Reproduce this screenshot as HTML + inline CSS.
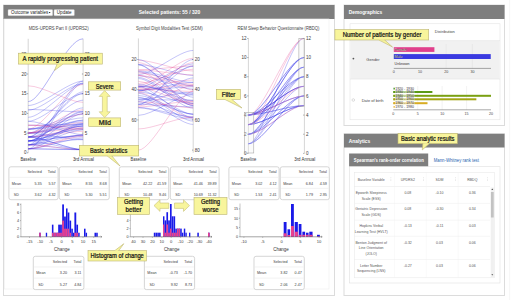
<!DOCTYPE html>
<html><head><meta charset="utf-8"><style>
html,body{margin:0;padding:0;background:#fff;width:512px;height:300px;overflow:hidden}
svg{display:block}
text{font-family:"Liberation Sans", sans-serif}
</style></head><body>
<svg width="512" height="300" viewBox="0 0 512 300">
<rect x="0" y="0" width="512" height="300" fill="#fff"/>
<line x1="509.60" y1="0.00" x2="509.60" y2="300.00" stroke="#f0f0f0" stroke-width="0.6" />
<rect x="3.50" y="5.00" width="331.00" height="290.50" fill="#fff" stroke="#dcdcdc" stroke-width="1" rx="0" />
<rect x="3.50" y="5.00" width="331.00" height="14.00" fill="#7e7e7e" stroke="none" stroke-width="1" rx="0" />
<rect x="8.00" y="9.60" width="44.70" height="6.10" fill="#fff" stroke="#bbb" stroke-width="0.4" rx="0.8" />
<text x="11.00" y="14.30" font-size="4.6" fill="#222" text-anchor="start" font-weight="normal" textLength="37.20" lengthAdjust="spacingAndGlyphs" >Outcome variables</text>
<path d="M48.6,11.9 L50.6,11.9 L49.6,13.3 Z" fill="#222"/>
<rect x="54.00" y="9.60" width="20.40" height="6.10" fill="#fff" stroke="#bbb" stroke-width="0.4" rx="0.8" />
<text x="64.20" y="14.30" font-size="4.6" fill="#222" text-anchor="middle" font-weight="normal" >Update</text>
<text x="138.80" y="14.20" font-size="5.2" fill="#fff" text-anchor="start" font-weight="bold" textLength="61.40" lengthAdjust="spacingAndGlyphs" >Selected patients: 55 / 320</text>
<rect x="4.50" y="19.00" width="324.50" height="270.00" fill="none" stroke="#eeeeee" stroke-width="0.6" rx="0" />
<rect x="344.00" y="5.00" width="160.50" height="120.50" fill="#fff" stroke="#dcdcdc" stroke-width="1" rx="0" />
<rect x="344.00" y="5.00" width="160.50" height="14.00" fill="#7e7e7e" stroke="none" stroke-width="1" rx="0" />
<text x="348.80" y="14.10" font-size="5.2" fill="#fff" text-anchor="start" font-weight="bold" textLength="33.40" lengthAdjust="spacingAndGlyphs" >Demographics</text>
<rect x="344.00" y="133.80" width="160.50" height="161.70" fill="#fff" stroke="#dcdcdc" stroke-width="1" rx="0" />
<rect x="344.00" y="133.80" width="160.50" height="13.70" fill="#7e7e7e" stroke="none" stroke-width="1" rx="0" />
<text x="348.80" y="142.70" font-size="5.2" fill="#fff" text-anchor="start" font-weight="bold" textLength="21.40" lengthAdjust="spacingAndGlyphs" >Analytics</text>
<text x="28.70" y="29.80" font-size="4.9" fill="#444" text-anchor="start" font-weight="normal" textLength="60.00" lengthAdjust="spacingAndGlyphs" >MDS-UPDRS Part II (UPDRS2)</text>
<line x1="28.20" y1="38.80" x2="28.20" y2="152.80" stroke="#aaa" stroke-width="0.5" />
<line x1="27.00" y1="152.80" x2="28.20" y2="152.80" stroke="#555" stroke-width="0.5" />
<line x1="27.00" y1="133.10" x2="28.20" y2="133.10" stroke="#555" stroke-width="0.5" />
<line x1="27.00" y1="113.40" x2="28.20" y2="113.40" stroke="#555" stroke-width="0.5" />
<line x1="27.00" y1="93.70" x2="28.20" y2="93.70" stroke="#555" stroke-width="0.5" />
<line x1="27.00" y1="74.00" x2="28.20" y2="74.00" stroke="#555" stroke-width="0.5" />
<line x1="27.00" y1="54.30" x2="28.20" y2="54.30" stroke="#555" stroke-width="0.5" />
<line x1="83.10" y1="38.80" x2="83.10" y2="152.80" stroke="#aaa" stroke-width="0.5" />
<line x1="81.90" y1="152.80" x2="83.10" y2="152.80" stroke="#555" stroke-width="0.5" />
<line x1="81.90" y1="133.10" x2="83.10" y2="133.10" stroke="#555" stroke-width="0.5" />
<line x1="81.90" y1="113.40" x2="83.10" y2="113.40" stroke="#555" stroke-width="0.5" />
<line x1="81.90" y1="93.70" x2="83.10" y2="93.70" stroke="#555" stroke-width="0.5" />
<line x1="81.90" y1="74.00" x2="83.10" y2="74.00" stroke="#555" stroke-width="0.5" />
<line x1="81.90" y1="54.30" x2="83.10" y2="54.30" stroke="#555" stroke-width="0.5" />
<text x="26.40" y="154.40" font-size="4.5" fill="#3a3a3a" text-anchor="end" font-weight="normal" >0</text>
<text x="84.70" y="154.40" font-size="4.5" fill="#3a3a3a" text-anchor="start" font-weight="normal" >0</text>
<text x="26.40" y="134.70" font-size="4.5" fill="#3a3a3a" text-anchor="end" font-weight="normal" >5</text>
<text x="84.70" y="134.70" font-size="4.5" fill="#3a3a3a" text-anchor="start" font-weight="normal" >5</text>
<text x="26.40" y="115.00" font-size="4.5" fill="#3a3a3a" text-anchor="end" font-weight="normal" >10</text>
<text x="84.70" y="115.00" font-size="4.5" fill="#3a3a3a" text-anchor="start" font-weight="normal" >10</text>
<text x="26.40" y="95.30" font-size="4.5" fill="#3a3a3a" text-anchor="end" font-weight="normal" >15</text>
<text x="84.70" y="95.30" font-size="4.5" fill="#3a3a3a" text-anchor="start" font-weight="normal" >15</text>
<text x="26.40" y="75.60" font-size="4.5" fill="#3a3a3a" text-anchor="end" font-weight="normal" >20</text>
<text x="84.70" y="75.60" font-size="4.5" fill="#3a3a3a" text-anchor="start" font-weight="normal" >20</text>
<text x="26.40" y="55.90" font-size="4.5" fill="#3a3a3a" text-anchor="end" font-weight="normal" >25</text>
<text x="84.70" y="55.90" font-size="4.5" fill="#3a3a3a" text-anchor="start" font-weight="normal" >25</text>
<text x="20.40" y="161.20" font-size="4.7" fill="#333" text-anchor="start" font-weight="normal" textLength="15.60" lengthAdjust="spacingAndGlyphs" >Baseline</text>
<text x="72.90" y="161.20" font-size="4.7" fill="#333" text-anchor="start" font-weight="normal" textLength="21.00" lengthAdjust="spacingAndGlyphs" >3rd Annual</text>
<text x="135.90" y="29.80" font-size="4.9" fill="#444" text-anchor="start" font-weight="normal" textLength="66.90" lengthAdjust="spacingAndGlyphs" >Symbol Digit Modalities Test (SDM)</text>
<line x1="138.40" y1="38.40" x2="138.40" y2="152.80" stroke="#aaa" stroke-width="0.5" />
<line x1="137.20" y1="59.50" x2="138.40" y2="59.50" stroke="#555" stroke-width="0.5" />
<line x1="137.20" y1="89.70" x2="138.40" y2="89.70" stroke="#555" stroke-width="0.5" />
<line x1="137.20" y1="119.90" x2="138.40" y2="119.90" stroke="#555" stroke-width="0.5" />
<line x1="137.20" y1="150.10" x2="138.40" y2="150.10" stroke="#555" stroke-width="0.5" />
<line x1="193.20" y1="38.40" x2="193.20" y2="152.80" stroke="#aaa" stroke-width="0.5" />
<line x1="192.00" y1="59.50" x2="193.20" y2="59.50" stroke="#555" stroke-width="0.5" />
<line x1="192.00" y1="89.70" x2="193.20" y2="89.70" stroke="#555" stroke-width="0.5" />
<line x1="192.00" y1="119.90" x2="193.20" y2="119.90" stroke="#555" stroke-width="0.5" />
<line x1="192.00" y1="150.10" x2="193.20" y2="150.10" stroke="#555" stroke-width="0.5" />
<text x="136.60" y="61.10" font-size="4.5" fill="#3a3a3a" text-anchor="end" font-weight="normal" >20</text>
<text x="194.80" y="61.10" font-size="4.5" fill="#3a3a3a" text-anchor="start" font-weight="normal" >20</text>
<text x="136.60" y="91.30" font-size="4.5" fill="#3a3a3a" text-anchor="end" font-weight="normal" >40</text>
<text x="194.80" y="91.30" font-size="4.5" fill="#3a3a3a" text-anchor="start" font-weight="normal" >40</text>
<text x="136.60" y="121.50" font-size="4.5" fill="#3a3a3a" text-anchor="end" font-weight="normal" >60</text>
<text x="194.80" y="121.50" font-size="4.5" fill="#3a3a3a" text-anchor="start" font-weight="normal" >60</text>
<text x="136.60" y="151.70" font-size="4.5" fill="#3a3a3a" text-anchor="end" font-weight="normal" >80</text>
<text x="194.80" y="151.70" font-size="4.5" fill="#3a3a3a" text-anchor="start" font-weight="normal" >80</text>
<text x="130.60" y="161.20" font-size="4.7" fill="#333" text-anchor="start" font-weight="normal" textLength="15.60" lengthAdjust="spacingAndGlyphs" >Baseline</text>
<text x="183.00" y="161.20" font-size="4.7" fill="#333" text-anchor="start" font-weight="normal" textLength="21.00" lengthAdjust="spacingAndGlyphs" >3rd Annual</text>
<text x="237.60" y="29.80" font-size="4.9" fill="#444" text-anchor="start" font-weight="normal" textLength="81.80" lengthAdjust="spacingAndGlyphs" >REM Sleep Behavior Questionnaire (RBDQ)</text>
<line x1="248.40" y1="38.40" x2="248.40" y2="153.20" stroke="#aaa" stroke-width="0.5" />
<line x1="247.20" y1="153.40" x2="248.40" y2="153.40" stroke="#555" stroke-width="0.5" />
<line x1="247.20" y1="134.24" x2="248.40" y2="134.24" stroke="#555" stroke-width="0.5" />
<line x1="247.20" y1="115.08" x2="248.40" y2="115.08" stroke="#555" stroke-width="0.5" />
<line x1="247.20" y1="95.92" x2="248.40" y2="95.92" stroke="#555" stroke-width="0.5" />
<line x1="247.20" y1="76.76" x2="248.40" y2="76.76" stroke="#555" stroke-width="0.5" />
<line x1="247.20" y1="57.60" x2="248.40" y2="57.60" stroke="#555" stroke-width="0.5" />
<line x1="247.20" y1="38.44" x2="248.40" y2="38.44" stroke="#555" stroke-width="0.5" />
<line x1="304.40" y1="38.40" x2="304.40" y2="153.20" stroke="#aaa" stroke-width="0.5" />
<line x1="303.20" y1="153.40" x2="304.40" y2="153.40" stroke="#555" stroke-width="0.5" />
<line x1="303.20" y1="134.24" x2="304.40" y2="134.24" stroke="#555" stroke-width="0.5" />
<line x1="303.20" y1="115.08" x2="304.40" y2="115.08" stroke="#555" stroke-width="0.5" />
<line x1="303.20" y1="95.92" x2="304.40" y2="95.92" stroke="#555" stroke-width="0.5" />
<line x1="303.20" y1="76.76" x2="304.40" y2="76.76" stroke="#555" stroke-width="0.5" />
<line x1="303.20" y1="57.60" x2="304.40" y2="57.60" stroke="#555" stroke-width="0.5" />
<line x1="303.20" y1="38.44" x2="304.40" y2="38.44" stroke="#555" stroke-width="0.5" />
<text x="246.60" y="155.00" font-size="4.5" fill="#3a3a3a" text-anchor="end" font-weight="normal" >0</text>
<text x="306.00" y="155.00" font-size="4.5" fill="#3a3a3a" text-anchor="start" font-weight="normal" >0</text>
<text x="246.60" y="135.84" font-size="4.5" fill="#3a3a3a" text-anchor="end" font-weight="normal" >2</text>
<text x="306.00" y="135.84" font-size="4.5" fill="#3a3a3a" text-anchor="start" font-weight="normal" >2</text>
<text x="246.60" y="116.68" font-size="4.5" fill="#3a3a3a" text-anchor="end" font-weight="normal" >4</text>
<text x="306.00" y="116.68" font-size="4.5" fill="#3a3a3a" text-anchor="start" font-weight="normal" >4</text>
<text x="246.60" y="97.52" font-size="4.5" fill="#3a3a3a" text-anchor="end" font-weight="normal" >6</text>
<text x="306.00" y="97.52" font-size="4.5" fill="#3a3a3a" text-anchor="start" font-weight="normal" >6</text>
<text x="246.60" y="78.36" font-size="4.5" fill="#3a3a3a" text-anchor="end" font-weight="normal" >8</text>
<text x="306.00" y="78.36" font-size="4.5" fill="#3a3a3a" text-anchor="start" font-weight="normal" >8</text>
<text x="246.60" y="59.20" font-size="4.5" fill="#3a3a3a" text-anchor="end" font-weight="normal" >10</text>
<text x="306.00" y="59.20" font-size="4.5" fill="#3a3a3a" text-anchor="start" font-weight="normal" >10</text>
<text x="246.60" y="40.04" font-size="4.5" fill="#3a3a3a" text-anchor="end" font-weight="normal" >12</text>
<text x="306.00" y="40.04" font-size="4.5" fill="#3a3a3a" text-anchor="start" font-weight="normal" >12</text>
<text x="240.60" y="161.20" font-size="4.7" fill="#333" text-anchor="start" font-weight="normal" textLength="15.60" lengthAdjust="spacingAndGlyphs" >Baseline</text>
<text x="294.20" y="161.20" font-size="4.7" fill="#333" text-anchor="start" font-weight="normal" textLength="21.00" lengthAdjust="spacingAndGlyphs" >3rd Annual</text>
<path d="M28.20,129.16 C42.47,129.16 68.83,114.29 83.10,114.29" fill="none" stroke="#2a2ae6" stroke-opacity="0.42" stroke-width="0.65"/>
<path d="M28.20,129.16 C42.47,129.16 68.83,117.81 83.10,117.81" fill="none" stroke="#2a2ae6" stroke-opacity="0.42" stroke-width="0.65"/>
<path d="M28.20,125.22 C42.47,125.22 68.83,124.35 83.10,124.35" fill="none" stroke="#2a2ae6" stroke-opacity="0.42" stroke-width="0.65"/>
<path d="M28.20,137.04 C42.47,137.04 68.83,131.38 83.10,131.38" fill="none" stroke="#e6408c" stroke-opacity="0.42" stroke-width="0.65"/>
<path d="M28.20,117.34 C42.47,117.34 68.83,83.94 83.10,83.94" fill="none" stroke="#2a2ae6" stroke-opacity="0.42" stroke-width="0.65"/>
<path d="M28.20,140.98 C42.47,140.98 68.83,125.88 83.10,125.88" fill="none" stroke="#2a2ae6" stroke-opacity="0.42" stroke-width="0.65"/>
<path d="M28.20,140.98 C42.47,140.98 68.83,149.65 83.10,149.65" fill="none" stroke="#2a2ae6" stroke-opacity="0.42" stroke-width="0.65"/>
<path d="M28.20,148.86 C42.47,148.86 68.83,134.85 83.10,134.85" fill="none" stroke="#e6408c" stroke-opacity="0.42" stroke-width="0.65"/>
<path d="M28.20,105.52 C42.47,105.52 68.83,81.09 83.10,81.09" fill="none" stroke="#2a2ae6" stroke-opacity="0.42" stroke-width="0.65"/>
<path d="M28.20,133.10 C42.47,133.10 68.83,123.59 83.10,123.59" fill="none" stroke="#2a2ae6" stroke-opacity="0.42" stroke-width="0.65"/>
<path d="M28.20,140.98 C42.47,140.98 68.83,111.96 83.10,111.96" fill="none" stroke="#2a2ae6" stroke-opacity="0.42" stroke-width="0.65"/>
<path d="M28.20,125.22 C42.47,125.22 68.83,127.34 83.10,127.34" fill="none" stroke="#e6408c" stroke-opacity="0.42" stroke-width="0.65"/>
<path d="M28.20,133.10 C42.47,133.10 68.83,139.79 83.10,139.79" fill="none" stroke="#2a2ae6" stroke-opacity="0.42" stroke-width="0.65"/>
<path d="M28.20,137.04 C42.47,137.04 68.83,136.94 83.10,136.94" fill="none" stroke="#2a2ae6" stroke-opacity="0.42" stroke-width="0.65"/>
<path d="M28.20,129.16 C42.47,129.16 68.83,84.38 83.10,84.38" fill="none" stroke="#e6408c" stroke-opacity="0.42" stroke-width="0.65"/>
<path d="M28.20,133.10 C42.47,133.10 68.83,120.13 83.10,120.13" fill="none" stroke="#2a2ae6" stroke-opacity="0.42" stroke-width="0.65"/>
<path d="M28.20,133.10 C42.47,133.10 68.83,128.29 83.10,128.29" fill="none" stroke="#e6408c" stroke-opacity="0.42" stroke-width="0.65"/>
<path d="M28.20,148.86 C42.47,148.86 68.83,124.23 83.10,124.23" fill="none" stroke="#2a2ae6" stroke-opacity="0.42" stroke-width="0.65"/>
<path d="M28.20,144.92 C42.47,144.92 68.83,81.09 83.10,81.09" fill="none" stroke="#2a2ae6" stroke-opacity="0.42" stroke-width="0.65"/>
<path d="M28.20,144.92 C42.47,144.92 68.83,123.33 83.10,123.33" fill="none" stroke="#2a2ae6" stroke-opacity="0.42" stroke-width="0.65"/>
<path d="M28.20,133.10 C42.47,133.10 68.83,126.24 83.10,126.24" fill="none" stroke="#2a2ae6" stroke-opacity="0.42" stroke-width="0.65"/>
<path d="M28.20,133.10 C42.47,133.10 68.83,100.16 83.10,100.16" fill="none" stroke="#2a2ae6" stroke-opacity="0.42" stroke-width="0.65"/>
<path d="M28.20,110.25 C42.47,110.25 68.83,83.47 83.10,83.47" fill="none" stroke="#2a2ae6" stroke-opacity="0.42" stroke-width="0.65"/>
<path d="M28.20,144.92 C42.47,144.92 68.83,113.55 83.10,113.55" fill="none" stroke="#2a2ae6" stroke-opacity="0.42" stroke-width="0.65"/>
<path d="M28.20,109.46 C42.47,109.46 68.83,111.90 83.10,111.90" fill="none" stroke="#2a2ae6" stroke-opacity="0.42" stroke-width="0.65"/>
<path d="M28.20,133.10 C42.47,133.10 68.83,113.87 83.10,113.87" fill="none" stroke="#e6408c" stroke-opacity="0.42" stroke-width="0.65"/>
<path d="M28.20,148.86 C42.47,148.86 68.83,136.25 83.10,136.25" fill="none" stroke="#e6408c" stroke-opacity="0.42" stroke-width="0.65"/>
<path d="M28.20,144.92 C42.47,144.92 68.83,149.65 83.10,149.65" fill="none" stroke="#2a2ae6" stroke-opacity="0.42" stroke-width="0.65"/>
<path d="M28.20,129.16 C42.47,129.16 68.83,121.68 83.10,121.68" fill="none" stroke="#2a2ae6" stroke-opacity="0.42" stroke-width="0.65"/>
<path d="M28.20,137.04 C42.47,137.04 68.83,128.61 83.10,128.61" fill="none" stroke="#e6408c" stroke-opacity="0.42" stroke-width="0.65"/>
<path d="M28.20,148.86 C42.47,148.86 68.83,82.86 83.10,82.86" fill="none" stroke="#2a2ae6" stroke-opacity="0.42" stroke-width="0.65"/>
<path d="M28.20,137.04 C42.47,137.04 68.83,129.51 83.10,129.51" fill="none" stroke="#2a2ae6" stroke-opacity="0.42" stroke-width="0.65"/>
<path d="M28.20,125.22 C42.47,125.22 68.83,129.36 83.10,129.36" fill="none" stroke="#e6408c" stroke-opacity="0.42" stroke-width="0.65"/>
<path d="M28.20,121.28 C42.47,121.28 68.83,93.79 83.10,93.79" fill="none" stroke="#2a2ae6" stroke-opacity="0.42" stroke-width="0.65"/>
<path d="M28.20,133.10 C42.47,133.10 68.83,109.61 83.10,109.61" fill="none" stroke="#e6408c" stroke-opacity="0.42" stroke-width="0.65"/>
<path d="M28.20,140.98 C42.47,140.98 68.83,128.02 83.10,128.02" fill="none" stroke="#2a2ae6" stroke-opacity="0.42" stroke-width="0.65"/>
<path d="M28.20,137.04 C42.47,137.04 68.83,91.81 83.10,91.81" fill="none" stroke="#2a2ae6" stroke-opacity="0.42" stroke-width="0.65"/>
<path d="M28.20,140.98 C42.47,140.98 68.83,135.53 83.10,135.53" fill="none" stroke="#2a2ae6" stroke-opacity="0.42" stroke-width="0.65"/>
<path d="M28.20,140.98 C42.47,140.98 68.83,107.84 83.10,107.84" fill="none" stroke="#2a2ae6" stroke-opacity="0.42" stroke-width="0.65"/>
<path d="M28.20,148.86 C42.47,148.86 68.83,138.13 83.10,138.13" fill="none" stroke="#2a2ae6" stroke-opacity="0.42" stroke-width="0.65"/>
<path d="M28.20,144.92 C42.47,144.92 68.83,129.84 83.10,129.84" fill="none" stroke="#2a2ae6" stroke-opacity="0.42" stroke-width="0.65"/>
<path d="M28.20,121.28 C42.47,121.28 68.83,134.69 83.10,134.69" fill="none" stroke="#2a2ae6" stroke-opacity="0.42" stroke-width="0.65"/>
<path d="M28.20,148.86 C42.47,148.86 68.83,149.65 83.10,149.65" fill="none" stroke="#2a2ae6" stroke-opacity="0.42" stroke-width="0.65"/>
<path d="M28.20,129.16 C42.47,129.16 68.83,125.08 83.10,125.08" fill="none" stroke="#2a2ae6" stroke-opacity="0.42" stroke-width="0.65"/>
<path d="M28.20,133.10 C42.47,133.10 68.83,122.42 83.10,122.42" fill="none" stroke="#e6408c" stroke-opacity="0.42" stroke-width="0.65"/>
<path d="M28.20,137.04 C42.47,137.04 68.83,93.37 83.10,93.37" fill="none" stroke="#2a2ae6" stroke-opacity="0.42" stroke-width="0.65"/>
<path d="M28.20,137.04 C42.47,137.04 68.83,120.20 83.10,120.20" fill="none" stroke="#2a2ae6" stroke-opacity="0.42" stroke-width="0.65"/>
<path d="M28.20,144.92 C42.47,144.92 68.83,134.77 83.10,134.77" fill="none" stroke="#2a2ae6" stroke-opacity="0.42" stroke-width="0.65"/>
<path d="M28.20,144.92 C42.47,144.92 68.83,149.65 83.10,149.65" fill="none" stroke="#e6408c" stroke-opacity="0.42" stroke-width="0.65"/>
<path d="M28.20,140.98 C42.47,140.98 68.83,126.00 83.10,126.00" fill="none" stroke="#2a2ae6" stroke-opacity="0.42" stroke-width="0.65"/>
<path d="M28.20,137.04 C42.47,137.04 68.83,149.65 83.10,149.65" fill="none" stroke="#2a2ae6" stroke-opacity="0.42" stroke-width="0.65"/>
<path d="M28.20,137.04 C42.47,137.04 68.83,149.65 83.10,149.65" fill="none" stroke="#2a2ae6" stroke-opacity="0.42" stroke-width="0.65"/>
<path d="M28.20,140.98 C42.47,140.98 68.83,111.11 83.10,111.11" fill="none" stroke="#2a2ae6" stroke-opacity="0.42" stroke-width="0.65"/>
<path d="M28.20,144.92 C42.47,144.92 68.83,139.45 83.10,139.45" fill="none" stroke="#2a2ae6" stroke-opacity="0.42" stroke-width="0.65"/>
<path d="M28.20,148.86 C42.47,148.86 68.83,149.65 83.10,149.65" fill="none" stroke="#2a2ae6" stroke-opacity="0.42" stroke-width="0.65"/>
<path d="M28.20,140.98 C42.47,140.98 68.83,135.28 83.10,135.28" fill="none" stroke="#2a2ae6" stroke-opacity="0.42" stroke-width="0.65"/>
<path d="M28.20,85.82 C42.47,85.82 68.83,102.37 83.10,102.37" fill="none" stroke="#e6408c" stroke-opacity="0.42" stroke-width="0.65"/>
<path d="M28.2,101.6 C42,102 66,38.8 83.1,38.8" fill="none" stroke="#2a2ae6" stroke-opacity="0.55" stroke-width="0.65"/>
<path d="M138.40,97.85 C152.65,97.85 178.95,114.15 193.20,114.15" fill="none" stroke="#2a2ae6" stroke-opacity="0.42" stroke-width="0.65"/>
<path d="M138.40,64.52 C152.65,64.52 178.95,75.50 193.20,75.50" fill="none" stroke="#2a2ae6" stroke-opacity="0.42" stroke-width="0.65"/>
<path d="M138.40,92.04 C152.65,92.04 178.95,103.51 193.20,103.51" fill="none" stroke="#2a2ae6" stroke-opacity="0.42" stroke-width="0.65"/>
<path d="M138.40,107.42 C152.65,107.42 178.95,116.71 193.20,116.71" fill="none" stroke="#2a2ae6" stroke-opacity="0.42" stroke-width="0.65"/>
<path d="M138.40,85.51 C152.65,85.51 178.95,58.28 193.20,58.28" fill="none" stroke="#e6408c" stroke-opacity="0.42" stroke-width="0.65"/>
<path d="M138.40,85.85 C152.65,85.85 178.95,95.15 193.20,95.15" fill="none" stroke="#2a2ae6" stroke-opacity="0.42" stroke-width="0.65"/>
<path d="M138.40,99.67 C152.65,99.67 178.95,100.17 193.20,100.17" fill="none" stroke="#2a2ae6" stroke-opacity="0.42" stroke-width="0.65"/>
<path d="M138.40,107.77 C152.65,107.77 178.95,119.24 193.20,119.24" fill="none" stroke="#2a2ae6" stroke-opacity="0.42" stroke-width="0.65"/>
<path d="M138.40,90.37 C152.65,90.37 178.95,86.76 193.20,86.76" fill="none" stroke="#2a2ae6" stroke-opacity="0.42" stroke-width="0.65"/>
<path d="M138.40,104.35 C152.65,104.35 178.95,106.87 193.20,106.87" fill="none" stroke="#2a2ae6" stroke-opacity="0.42" stroke-width="0.65"/>
<path d="M138.40,89.92 C152.65,89.92 178.95,114.21 193.20,114.21" fill="none" stroke="#2a2ae6" stroke-opacity="0.42" stroke-width="0.65"/>
<path d="M138.40,86.82 C152.65,86.82 178.95,79.99 193.20,79.99" fill="none" stroke="#e6408c" stroke-opacity="0.42" stroke-width="0.65"/>
<path d="M138.40,92.70 C152.65,92.70 178.95,118.12 193.20,118.12" fill="none" stroke="#e6408c" stroke-opacity="0.42" stroke-width="0.65"/>
<path d="M138.40,87.46 C152.65,87.46 178.95,103.22 193.20,103.22" fill="none" stroke="#e6408c" stroke-opacity="0.42" stroke-width="0.65"/>
<path d="M138.40,71.66 C152.65,71.66 178.95,101.75 193.20,101.75" fill="none" stroke="#e6408c" stroke-opacity="0.42" stroke-width="0.65"/>
<path d="M138.40,62.67 C152.65,62.67 178.95,89.99 193.20,89.99" fill="none" stroke="#e6408c" stroke-opacity="0.42" stroke-width="0.65"/>
<path d="M138.40,81.34 C152.65,81.34 178.95,105.21 193.20,105.21" fill="none" stroke="#e6408c" stroke-opacity="0.42" stroke-width="0.65"/>
<path d="M138.40,104.52 C152.65,104.52 178.95,59.51 193.20,59.51" fill="none" stroke="#2a2ae6" stroke-opacity="0.42" stroke-width="0.65"/>
<path d="M138.40,91.02 C152.65,91.02 178.95,66.41 193.20,66.41" fill="none" stroke="#2a2ae6" stroke-opacity="0.42" stroke-width="0.65"/>
<path d="M138.40,87.21 C152.65,87.21 178.95,63.82 193.20,63.82" fill="none" stroke="#2a2ae6" stroke-opacity="0.42" stroke-width="0.65"/>
<path d="M138.40,95.44 C152.65,95.44 178.95,114.39 193.20,114.39" fill="none" stroke="#2a2ae6" stroke-opacity="0.42" stroke-width="0.65"/>
<path d="M138.40,64.47 C152.65,64.47 178.95,105.75 193.20,105.75" fill="none" stroke="#2a2ae6" stroke-opacity="0.42" stroke-width="0.65"/>
<path d="M138.40,89.47 C152.65,89.47 178.95,84.88 193.20,84.88" fill="none" stroke="#e6408c" stroke-opacity="0.42" stroke-width="0.65"/>
<path d="M138.40,83.48 C152.65,83.48 178.95,69.21 193.20,69.21" fill="none" stroke="#e6408c" stroke-opacity="0.42" stroke-width="0.65"/>
<path d="M138.40,106.97 C152.65,106.97 178.95,101.13 193.20,101.13" fill="none" stroke="#e6408c" stroke-opacity="0.42" stroke-width="0.65"/>
<path d="M138.40,75.71 C152.65,75.71 178.95,89.14 193.20,89.14" fill="none" stroke="#2a2ae6" stroke-opacity="0.42" stroke-width="0.65"/>
<path d="M138.40,90.34 C152.65,90.34 178.95,82.22 193.20,82.22" fill="none" stroke="#2a2ae6" stroke-opacity="0.42" stroke-width="0.65"/>
<path d="M138.40,105.95 C152.65,105.95 178.95,85.55 193.20,85.55" fill="none" stroke="#e6408c" stroke-opacity="0.42" stroke-width="0.65"/>
<path d="M138.40,86.54 C152.65,86.54 178.95,93.52 193.20,93.52" fill="none" stroke="#2a2ae6" stroke-opacity="0.42" stroke-width="0.65"/>
<path d="M138.40,93.37 C152.65,93.37 178.95,121.14 193.20,121.14" fill="none" stroke="#2a2ae6" stroke-opacity="0.42" stroke-width="0.65"/>
<path d="M138.40,75.39 C152.65,75.39 178.95,85.96 193.20,85.96" fill="none" stroke="#e6408c" stroke-opacity="0.42" stroke-width="0.65"/>
<path d="M138.40,78.55 C152.65,78.55 178.95,108.11 193.20,108.11" fill="none" stroke="#2a2ae6" stroke-opacity="0.42" stroke-width="0.65"/>
<path d="M138.40,101.72 C152.65,101.72 178.95,107.81 193.20,107.81" fill="none" stroke="#e6408c" stroke-opacity="0.42" stroke-width="0.65"/>
<path d="M138.40,101.86 C152.65,101.86 178.95,117.84 193.20,117.84" fill="none" stroke="#2a2ae6" stroke-opacity="0.42" stroke-width="0.65"/>
<path d="M138.40,84.37 C152.65,84.37 178.95,100.69 193.20,100.69" fill="none" stroke="#2a2ae6" stroke-opacity="0.42" stroke-width="0.65"/>
<path d="M138.40,70.84 C152.65,70.84 178.95,82.56 193.20,82.56" fill="none" stroke="#2a2ae6" stroke-opacity="0.42" stroke-width="0.65"/>
<path d="M138.40,69.89 C152.65,69.89 178.95,74.87 193.20,74.87" fill="none" stroke="#e6408c" stroke-opacity="0.42" stroke-width="0.65"/>
<path d="M138.40,86.50 C152.65,86.50 178.95,117.72 193.20,117.72" fill="none" stroke="#2a2ae6" stroke-opacity="0.42" stroke-width="0.65"/>
<path d="M138.40,75.29 C152.65,75.29 178.95,104.16 193.20,104.16" fill="none" stroke="#e6408c" stroke-opacity="0.42" stroke-width="0.65"/>
<path d="M138.40,60.31 C152.65,60.31 178.95,71.00 193.20,71.00" fill="none" stroke="#e6408c" stroke-opacity="0.42" stroke-width="0.65"/>
<path d="M138.40,73.02 C152.65,73.02 178.95,84.28 193.20,84.28" fill="none" stroke="#e6408c" stroke-opacity="0.42" stroke-width="0.65"/>
<path d="M138.40,91.99 C152.65,91.99 178.95,62.60 193.20,62.60" fill="none" stroke="#e6408c" stroke-opacity="0.42" stroke-width="0.65"/>
<path d="M138.40,77.44 C152.65,77.44 178.95,105.37 193.20,105.37" fill="none" stroke="#2a2ae6" stroke-opacity="0.42" stroke-width="0.65"/>
<path d="M138.40,64.90 C152.65,64.90 178.95,103.43 193.20,103.43" fill="none" stroke="#2a2ae6" stroke-opacity="0.42" stroke-width="0.65"/>
<path d="M138.40,69.95 C152.65,69.95 178.95,66.04 193.20,66.04" fill="none" stroke="#e6408c" stroke-opacity="0.42" stroke-width="0.65"/>
<path d="M138.40,104.13 C152.65,104.13 178.95,77.96 193.20,77.96" fill="none" stroke="#2a2ae6" stroke-opacity="0.42" stroke-width="0.65"/>
<path d="M138.40,89.00 C152.65,89.00 178.95,91.40 193.20,91.40" fill="none" stroke="#e6408c" stroke-opacity="0.42" stroke-width="0.65"/>
<path d="M138.40,99.34 C152.65,99.34 178.95,92.31 193.20,92.31" fill="none" stroke="#2a2ae6" stroke-opacity="0.42" stroke-width="0.65"/>
<path d="M138.40,71.80 C152.65,71.80 178.95,85.88 193.20,85.88" fill="none" stroke="#2a2ae6" stroke-opacity="0.42" stroke-width="0.65"/>
<path d="M138.40,101.22 C152.65,101.22 178.95,65.81 193.20,65.81" fill="none" stroke="#2a2ae6" stroke-opacity="0.42" stroke-width="0.65"/>
<path d="M138.40,150.10 C152.65,150.10 178.95,91.21 193.20,91.21" fill="none" stroke="#e6408c" stroke-opacity="0.42" stroke-width="0.65"/>
<path d="M138.40,128.96 C152.65,128.96 178.95,116.88 193.20,116.88" fill="none" stroke="#e6408c" stroke-opacity="0.42" stroke-width="0.65"/>
<path d="M138.40,115.37 C152.65,115.37 178.95,94.23 193.20,94.23" fill="none" stroke="#2a2ae6" stroke-opacity="0.42" stroke-width="0.65"/>
<path d="M138.40,97.25 C152.65,97.25 178.95,124.43 193.20,124.43" fill="none" stroke="#2a2ae6" stroke-opacity="0.42" stroke-width="0.65"/>
<path d="M138.40,74.60 C152.65,74.60 178.95,50.44 193.20,50.44" fill="none" stroke="#2a2ae6" stroke-opacity="0.42" stroke-width="0.65"/>
<path d="M138.40,59.50 C152.65,59.50 178.95,97.25 193.20,97.25" fill="none" stroke="#2a2ae6" stroke-opacity="0.42" stroke-width="0.65"/>
<path d="M248.40,134.24 C262.80,134.24 289.40,105.50 303.80,105.50" fill="none" stroke="#2a2ae6" stroke-opacity="0.44" stroke-width="0.65"/>
<path d="M248.40,115.08 C262.80,115.08 289.40,86.34 303.80,86.34" fill="none" stroke="#e6408c" stroke-opacity="0.44" stroke-width="0.65"/>
<path d="M248.40,124.66 C262.80,124.66 289.40,105.50 303.80,105.50" fill="none" stroke="#2a2ae6" stroke-opacity="0.44" stroke-width="0.65"/>
<path d="M248.40,124.66 C262.80,124.66 289.40,76.76 303.80,76.76" fill="none" stroke="#2a2ae6" stroke-opacity="0.44" stroke-width="0.65"/>
<path d="M248.40,115.08 C262.80,115.08 289.40,38.44 303.80,38.44" fill="none" stroke="#e6408c" stroke-opacity="0.44" stroke-width="0.65"/>
<path d="M248.40,115.08 C262.80,115.08 289.40,105.50 303.80,105.50" fill="none" stroke="#2a2ae6" stroke-opacity="0.44" stroke-width="0.65"/>
<path d="M248.40,134.24 C262.80,134.24 289.40,67.18 303.80,67.18" fill="none" stroke="#2a2ae6" stroke-opacity="0.44" stroke-width="0.65"/>
<path d="M248.40,115.08 C262.80,115.08 289.40,86.34 303.80,86.34" fill="none" stroke="#2a2ae6" stroke-opacity="0.44" stroke-width="0.65"/>
<path d="M248.40,143.82 C262.80,143.82 289.40,67.18 303.80,67.18" fill="none" stroke="#2a2ae6" stroke-opacity="0.44" stroke-width="0.65"/>
<path d="M248.40,143.82 C262.80,143.82 289.40,95.92 303.80,95.92" fill="none" stroke="#2a2ae6" stroke-opacity="0.44" stroke-width="0.65"/>
<path d="M248.40,115.08 C262.80,115.08 289.40,76.76 303.80,76.76" fill="none" stroke="#2a2ae6" stroke-opacity="0.44" stroke-width="0.65"/>
<path d="M248.40,115.08 C262.80,115.08 289.40,105.50 303.80,105.50" fill="none" stroke="#2a2ae6" stroke-opacity="0.44" stroke-width="0.65"/>
<path d="M248.40,124.66 C262.80,124.66 289.40,105.50 303.80,105.50" fill="none" stroke="#2a2ae6" stroke-opacity="0.44" stroke-width="0.65"/>
<path d="M248.40,124.66 C262.80,124.66 289.40,57.60 303.80,57.60" fill="none" stroke="#2a2ae6" stroke-opacity="0.44" stroke-width="0.65"/>
<path d="M248.40,143.82 C262.80,143.82 289.40,38.44 303.80,38.44" fill="none" stroke="#2a2ae6" stroke-opacity="0.44" stroke-width="0.65"/>
<path d="M248.40,134.24 C262.80,134.24 289.40,95.92 303.80,95.92" fill="none" stroke="#2a2ae6" stroke-opacity="0.44" stroke-width="0.65"/>
<path d="M248.40,124.66 C262.80,124.66 289.40,57.60 303.80,57.60" fill="none" stroke="#2a2ae6" stroke-opacity="0.44" stroke-width="0.65"/>
<path d="M248.40,115.08 C262.80,115.08 289.40,86.34 303.80,86.34" fill="none" stroke="#2a2ae6" stroke-opacity="0.44" stroke-width="0.65"/>
<path d="M248.40,115.08 C262.80,115.08 289.40,86.34 303.80,86.34" fill="none" stroke="#2a2ae6" stroke-opacity="0.44" stroke-width="0.65"/>
<path d="M248.40,115.08 C262.80,115.08 289.40,57.60 303.80,57.60" fill="none" stroke="#2a2ae6" stroke-opacity="0.44" stroke-width="0.65"/>
<path d="M248.40,124.66 C262.80,124.66 289.40,57.60 303.80,57.60" fill="none" stroke="#2a2ae6" stroke-opacity="0.44" stroke-width="0.65"/>
<path d="M248.40,134.24 C262.80,134.24 289.40,95.92 303.80,95.92" fill="none" stroke="#2a2ae6" stroke-opacity="0.44" stroke-width="0.65"/>
<path d="M248.40,134.24 C262.80,134.24 289.40,105.50 303.80,105.50" fill="none" stroke="#e6408c" stroke-opacity="0.44" stroke-width="0.65"/>
<path d="M248.40,134.24 C262.80,134.24 289.40,76.76 303.80,76.76" fill="none" stroke="#2a2ae6" stroke-opacity="0.44" stroke-width="0.65"/>
<path d="M248.40,124.66 C262.80,124.66 289.40,67.18 303.80,67.18" fill="none" stroke="#2a2ae6" stroke-opacity="0.44" stroke-width="0.65"/>
<path d="M248.40,115.08 C262.80,115.08 289.40,95.92 303.80,95.92" fill="none" stroke="#2a2ae6" stroke-opacity="0.44" stroke-width="0.65"/>
<path d="M248.40,124.66 C262.80,124.66 289.40,76.76 303.80,76.76" fill="none" stroke="#2a2ae6" stroke-opacity="0.44" stroke-width="0.65"/>
<path d="M248.40,134.24 C262.80,134.24 289.40,86.34 303.80,86.34" fill="none" stroke="#2a2ae6" stroke-opacity="0.44" stroke-width="0.65"/>
<path d="M248.40,143.82 C262.80,143.82 289.40,76.76 303.80,76.76" fill="none" stroke="#2a2ae6" stroke-opacity="0.44" stroke-width="0.65"/>
<path d="M248.40,115.08 C262.80,115.08 289.40,76.76 303.80,76.76" fill="none" stroke="#2a2ae6" stroke-opacity="0.44" stroke-width="0.65"/>
<path d="M248.40,124.66 C262.80,124.66 289.40,105.50 303.80,105.50" fill="none" stroke="#2a2ae6" stroke-opacity="0.44" stroke-width="0.65"/>
<path d="M248.40,124.66 C262.80,124.66 289.40,38.44 303.80,38.44" fill="none" stroke="#e6408c" stroke-opacity="0.44" stroke-width="0.65"/>
<path d="M248.40,124.66 C262.80,124.66 289.40,67.18 303.80,67.18" fill="none" stroke="#2a2ae6" stroke-opacity="0.44" stroke-width="0.65"/>
<path d="M248.40,143.82 C262.80,143.82 289.40,95.92 303.80,95.92" fill="none" stroke="#2a2ae6" stroke-opacity="0.44" stroke-width="0.65"/>
<path d="M248.40,115.08 C262.80,115.08 289.40,95.92 303.80,95.92" fill="none" stroke="#2a2ae6" stroke-opacity="0.44" stroke-width="0.65"/>
<path d="M248.40,134.24 C262.80,134.24 289.40,67.18 303.80,67.18" fill="none" stroke="#2a2ae6" stroke-opacity="0.44" stroke-width="0.65"/>
<path d="M248.40,124.66 C262.80,124.66 289.40,86.34 303.80,86.34" fill="none" stroke="#e6408c" stroke-opacity="0.44" stroke-width="0.65"/>
<path d="M248.40,115.08 C262.80,115.08 289.40,95.92 303.80,95.92" fill="none" stroke="#e6408c" stroke-opacity="0.44" stroke-width="0.65"/>
<path d="M248.40,115.08 C262.80,115.08 289.40,57.60 303.80,57.60" fill="none" stroke="#2a2ae6" stroke-opacity="0.44" stroke-width="0.65"/>
<rect x="244.70" y="112.40" width="9.10" height="40.60" fill="#f2f2f2" stroke="#9a9a9a" stroke-width="0.5" rx="0" fill-opacity="0.3"/>
<rect x="298.90" y="38.60" width="5.20" height="67.70" fill="#f2f2f2" stroke="#9a9a9a" stroke-width="0.5" rx="0" fill-opacity="0.3"/>
<rect x="8.90" y="166.80" width="49.20" height="32.90" fill="#fff" stroke="#c4c4c4" stroke-width="0.7" rx="2" />
<line x1="9.70" y1="177.33" x2="57.30" y2="177.33" stroke="#e4e4e4" stroke-width="0.5" />
<line x1="9.70" y1="188.35" x2="57.30" y2="188.35" stroke="#e4e4e4" stroke-width="0.5" />
<text transform="translate(41.72,173.31) scale(0.84,1)" x="0" y="0" font-size="4.4" fill="#3a3a3a" text-anchor="end" font-weight="normal" >Selected</text>
<text transform="translate(55.64,173.31) scale(0.84,1)" x="0" y="0" font-size="4.4" fill="#3a3a3a" text-anchor="end" font-weight="normal" >Total</text>
<text transform="translate(11.80,184.76) scale(0.84,1)" x="0" y="0" font-size="4.4" fill="#3a3a3a" text-anchor="start" font-weight="normal" >Mean</text>
<text transform="translate(41.72,184.76) scale(0.84,1)" x="0" y="0" font-size="4.4" fill="#3a3a3a" text-anchor="end" font-weight="normal" >5.35</text>
<text transform="translate(55.64,184.76) scale(0.84,1)" x="0" y="0" font-size="4.4" fill="#3a3a3a" text-anchor="end" font-weight="normal" >5.57</text>
<text transform="translate(13.82,195.78) scale(0.84,1)" x="0" y="0" font-size="4.4" fill="#3a3a3a" text-anchor="start" font-weight="normal" >SD</text>
<text transform="translate(41.72,195.78) scale(0.84,1)" x="0" y="0" font-size="4.4" fill="#3a3a3a" text-anchor="end" font-weight="normal" >3.62</text>
<text transform="translate(55.64,195.78) scale(0.84,1)" x="0" y="0" font-size="4.4" fill="#3a3a3a" text-anchor="end" font-weight="normal" >4.32</text>
<rect x="59.30" y="166.80" width="49.90" height="32.90" fill="#fff" stroke="#c4c4c4" stroke-width="0.7" rx="2" />
<line x1="60.10" y1="177.33" x2="108.40" y2="177.33" stroke="#e4e4e4" stroke-width="0.5" />
<line x1="60.10" y1="188.35" x2="108.40" y2="188.35" stroke="#e4e4e4" stroke-width="0.5" />
<text transform="translate(92.58,173.31) scale(0.84,1)" x="0" y="0" font-size="4.4" fill="#3a3a3a" text-anchor="end" font-weight="normal" >Selected</text>
<text transform="translate(106.70,173.31) scale(0.84,1)" x="0" y="0" font-size="4.4" fill="#3a3a3a" text-anchor="end" font-weight="normal" >Total</text>
<text transform="translate(62.24,184.76) scale(0.84,1)" x="0" y="0" font-size="4.4" fill="#3a3a3a" text-anchor="start" font-weight="normal" >Mean</text>
<text transform="translate(92.58,184.76) scale(0.84,1)" x="0" y="0" font-size="4.4" fill="#3a3a3a" text-anchor="end" font-weight="normal" >8.55</text>
<text transform="translate(106.70,184.76) scale(0.84,1)" x="0" y="0" font-size="4.4" fill="#3a3a3a" text-anchor="end" font-weight="normal" >8.68</text>
<text transform="translate(64.29,195.78) scale(0.84,1)" x="0" y="0" font-size="4.4" fill="#3a3a3a" text-anchor="start" font-weight="normal" >SD</text>
<text transform="translate(92.58,195.78) scale(0.84,1)" x="0" y="0" font-size="4.4" fill="#3a3a3a" text-anchor="end" font-weight="normal" >5.30</text>
<text transform="translate(106.70,195.78) scale(0.84,1)" x="0" y="0" font-size="4.4" fill="#3a3a3a" text-anchor="end" font-weight="normal" >5.51</text>
<rect x="119.30" y="166.80" width="49.40" height="32.90" fill="#fff" stroke="#c4c4c4" stroke-width="0.7" rx="2" />
<line x1="120.10" y1="177.33" x2="167.90" y2="177.33" stroke="#e4e4e4" stroke-width="0.5" />
<line x1="120.10" y1="188.35" x2="167.90" y2="188.35" stroke="#e4e4e4" stroke-width="0.5" />
<text transform="translate(152.25,173.31) scale(0.84,1)" x="0" y="0" font-size="4.4" fill="#3a3a3a" text-anchor="end" font-weight="normal" >Selected</text>
<text transform="translate(166.23,173.31) scale(0.84,1)" x="0" y="0" font-size="4.4" fill="#3a3a3a" text-anchor="end" font-weight="normal" >Total</text>
<text transform="translate(122.21,184.76) scale(0.84,1)" x="0" y="0" font-size="4.4" fill="#3a3a3a" text-anchor="start" font-weight="normal" >Mean</text>
<text transform="translate(152.25,184.76) scale(0.84,1)" x="0" y="0" font-size="4.4" fill="#3a3a3a" text-anchor="end" font-weight="normal" >42.22</text>
<text transform="translate(166.23,184.76) scale(0.84,1)" x="0" y="0" font-size="4.4" fill="#3a3a3a" text-anchor="end" font-weight="normal" >41.59</text>
<text transform="translate(124.24,195.78) scale(0.84,1)" x="0" y="0" font-size="4.4" fill="#3a3a3a" text-anchor="start" font-weight="normal" >SD</text>
<text transform="translate(152.25,195.78) scale(0.84,1)" x="0" y="0" font-size="4.4" fill="#3a3a3a" text-anchor="end" font-weight="normal" >10.48</text>
<text transform="translate(166.23,195.78) scale(0.84,1)" x="0" y="0" font-size="4.4" fill="#3a3a3a" text-anchor="end" font-weight="normal" >9.46</text>
<rect x="170.30" y="166.80" width="48.80" height="32.90" fill="#fff" stroke="#c4c4c4" stroke-width="0.7" rx="2" />
<line x1="171.10" y1="177.33" x2="218.30" y2="177.33" stroke="#e4e4e4" stroke-width="0.5" />
<line x1="171.10" y1="188.35" x2="218.30" y2="188.35" stroke="#e4e4e4" stroke-width="0.5" />
<text transform="translate(202.85,173.31) scale(0.84,1)" x="0" y="0" font-size="4.4" fill="#3a3a3a" text-anchor="end" font-weight="normal" >Selected</text>
<text transform="translate(216.66,173.31) scale(0.84,1)" x="0" y="0" font-size="4.4" fill="#3a3a3a" text-anchor="end" font-weight="normal" >Total</text>
<text transform="translate(173.18,184.76) scale(0.84,1)" x="0" y="0" font-size="4.4" fill="#3a3a3a" text-anchor="start" font-weight="normal" >Mean</text>
<text transform="translate(202.85,184.76) scale(0.84,1)" x="0" y="0" font-size="4.4" fill="#3a3a3a" text-anchor="end" font-weight="normal" >41.46</text>
<text transform="translate(216.66,184.76) scale(0.84,1)" x="0" y="0" font-size="4.4" fill="#3a3a3a" text-anchor="end" font-weight="normal" >39.89</text>
<text transform="translate(175.18,195.78) scale(0.84,1)" x="0" y="0" font-size="4.4" fill="#3a3a3a" text-anchor="start" font-weight="normal" >SD</text>
<text transform="translate(202.85,195.78) scale(0.84,1)" x="0" y="0" font-size="4.4" fill="#3a3a3a" text-anchor="end" font-weight="normal" >10.69</text>
<text transform="translate(216.66,195.78) scale(0.84,1)" x="0" y="0" font-size="4.4" fill="#3a3a3a" text-anchor="end" font-weight="normal" >11.32</text>
<rect x="228.90" y="166.80" width="50.20" height="32.90" fill="#fff" stroke="#c4c4c4" stroke-width="0.7" rx="2" />
<line x1="229.70" y1="177.33" x2="278.30" y2="177.33" stroke="#e4e4e4" stroke-width="0.5" />
<line x1="229.70" y1="188.35" x2="278.30" y2="188.35" stroke="#e4e4e4" stroke-width="0.5" />
<text transform="translate(262.38,173.31) scale(0.84,1)" x="0" y="0" font-size="4.4" fill="#3a3a3a" text-anchor="end" font-weight="normal" >Selected</text>
<text transform="translate(276.59,173.31) scale(0.84,1)" x="0" y="0" font-size="4.4" fill="#3a3a3a" text-anchor="end" font-weight="normal" >Total</text>
<text transform="translate(231.86,184.76) scale(0.84,1)" x="0" y="0" font-size="4.4" fill="#3a3a3a" text-anchor="start" font-weight="normal" >Mean</text>
<text transform="translate(262.38,184.76) scale(0.84,1)" x="0" y="0" font-size="4.4" fill="#3a3a3a" text-anchor="end" font-weight="normal" >3.02</text>
<text transform="translate(276.59,184.76) scale(0.84,1)" x="0" y="0" font-size="4.4" fill="#3a3a3a" text-anchor="end" font-weight="normal" >4.12</text>
<text transform="translate(233.92,195.78) scale(0.84,1)" x="0" y="0" font-size="4.4" fill="#3a3a3a" text-anchor="start" font-weight="normal" >SD</text>
<text transform="translate(262.38,195.78) scale(0.84,1)" x="0" y="0" font-size="4.4" fill="#3a3a3a" text-anchor="end" font-weight="normal" >1.53</text>
<text transform="translate(276.59,195.78) scale(0.84,1)" x="0" y="0" font-size="4.4" fill="#3a3a3a" text-anchor="end" font-weight="normal" >2.41</text>
<rect x="280.30" y="166.80" width="49.00" height="32.90" fill="#fff" stroke="#c4c4c4" stroke-width="0.7" rx="2" />
<line x1="281.10" y1="177.33" x2="328.50" y2="177.33" stroke="#e4e4e4" stroke-width="0.5" />
<line x1="281.10" y1="188.35" x2="328.50" y2="188.35" stroke="#e4e4e4" stroke-width="0.5" />
<text transform="translate(312.98,173.31) scale(0.84,1)" x="0" y="0" font-size="4.4" fill="#3a3a3a" text-anchor="end" font-weight="normal" >Selected</text>
<text transform="translate(326.85,173.31) scale(0.84,1)" x="0" y="0" font-size="4.4" fill="#3a3a3a" text-anchor="end" font-weight="normal" >Total</text>
<text transform="translate(283.19,184.76) scale(0.84,1)" x="0" y="0" font-size="4.4" fill="#3a3a3a" text-anchor="start" font-weight="normal" >Mean</text>
<text transform="translate(312.98,184.76) scale(0.84,1)" x="0" y="0" font-size="4.4" fill="#3a3a3a" text-anchor="end" font-weight="normal" >6.84</text>
<text transform="translate(326.85,184.76) scale(0.84,1)" x="0" y="0" font-size="4.4" fill="#3a3a3a" text-anchor="end" font-weight="normal" >4.59</text>
<text transform="translate(285.20,195.78) scale(0.84,1)" x="0" y="0" font-size="4.4" fill="#3a3a3a" text-anchor="start" font-weight="normal" >SD</text>
<text transform="translate(312.98,195.78) scale(0.84,1)" x="0" y="0" font-size="4.4" fill="#3a3a3a" text-anchor="end" font-weight="normal" >1.79</text>
<text transform="translate(326.85,195.78) scale(0.84,1)" x="0" y="0" font-size="4.4" fill="#3a3a3a" text-anchor="end" font-weight="normal" >2.95</text>
<rect x="33.30" y="256.30" width="50.60" height="33.30" fill="#fff" stroke="#c4c4c4" stroke-width="0.7" rx="2" />
<line x1="34.10" y1="266.96" x2="83.10" y2="266.96" stroke="#e4e4e4" stroke-width="0.5" />
<line x1="34.10" y1="278.11" x2="83.10" y2="278.11" stroke="#e4e4e4" stroke-width="0.5" />
<text transform="translate(67.05,262.89) scale(0.84,1)" x="0" y="0" font-size="4.4" fill="#3a3a3a" text-anchor="end" font-weight="normal" >Selected</text>
<text transform="translate(81.37,262.89) scale(0.84,1)" x="0" y="0" font-size="4.4" fill="#3a3a3a" text-anchor="end" font-weight="normal" >Total</text>
<text transform="translate(36.29,274.48) scale(0.84,1)" x="0" y="0" font-size="4.4" fill="#3a3a3a" text-anchor="start" font-weight="normal" >Mean</text>
<text transform="translate(67.05,274.48) scale(0.84,1)" x="0" y="0" font-size="4.4" fill="#3a3a3a" text-anchor="end" font-weight="normal" >3.20</text>
<text transform="translate(81.37,274.48) scale(0.84,1)" x="0" y="0" font-size="4.4" fill="#3a3a3a" text-anchor="end" font-weight="normal" >3.11</text>
<text transform="translate(38.36,285.64) scale(0.84,1)" x="0" y="0" font-size="4.4" fill="#3a3a3a" text-anchor="start" font-weight="normal" >SD</text>
<text transform="translate(67.05,285.64) scale(0.84,1)" x="0" y="0" font-size="4.4" fill="#3a3a3a" text-anchor="end" font-weight="normal" >5.27</text>
<text transform="translate(81.37,285.64) scale(0.84,1)" x="0" y="0" font-size="4.4" fill="#3a3a3a" text-anchor="end" font-weight="normal" >4.84</text>
<rect x="144.40" y="256.30" width="50.20" height="33.30" fill="#fff" stroke="#c4c4c4" stroke-width="0.7" rx="2" />
<line x1="145.20" y1="266.96" x2="193.80" y2="266.96" stroke="#e4e4e4" stroke-width="0.5" />
<line x1="145.20" y1="278.11" x2="193.80" y2="278.11" stroke="#e4e4e4" stroke-width="0.5" />
<text transform="translate(177.88,262.89) scale(0.84,1)" x="0" y="0" font-size="4.4" fill="#3a3a3a" text-anchor="end" font-weight="normal" >Selected</text>
<text transform="translate(192.09,262.89) scale(0.84,1)" x="0" y="0" font-size="4.4" fill="#3a3a3a" text-anchor="end" font-weight="normal" >Total</text>
<text transform="translate(147.36,274.48) scale(0.84,1)" x="0" y="0" font-size="4.4" fill="#3a3a3a" text-anchor="start" font-weight="normal" >Mean</text>
<text transform="translate(177.88,274.48) scale(0.84,1)" x="0" y="0" font-size="4.4" fill="#3a3a3a" text-anchor="end" font-weight="normal" >-0.73</text>
<text transform="translate(192.09,274.48) scale(0.84,1)" x="0" y="0" font-size="4.4" fill="#3a3a3a" text-anchor="end" font-weight="normal" >-1.70</text>
<text transform="translate(149.42,285.64) scale(0.84,1)" x="0" y="0" font-size="4.4" fill="#3a3a3a" text-anchor="start" font-weight="normal" >SD</text>
<text transform="translate(177.88,285.64) scale(0.84,1)" x="0" y="0" font-size="4.4" fill="#3a3a3a" text-anchor="end" font-weight="normal" >9.92</text>
<text transform="translate(192.09,285.64) scale(0.84,1)" x="0" y="0" font-size="4.4" fill="#3a3a3a" text-anchor="end" font-weight="normal" >8.73</text>
<rect x="254.00" y="256.30" width="50.30" height="33.30" fill="#fff" stroke="#c4c4c4" stroke-width="0.7" rx="2" />
<line x1="254.80" y1="266.96" x2="303.50" y2="266.96" stroke="#e4e4e4" stroke-width="0.5" />
<line x1="254.80" y1="278.11" x2="303.50" y2="278.11" stroke="#e4e4e4" stroke-width="0.5" />
<text transform="translate(287.55,262.89) scale(0.84,1)" x="0" y="0" font-size="4.4" fill="#3a3a3a" text-anchor="end" font-weight="normal" >Selected</text>
<text transform="translate(301.79,262.89) scale(0.84,1)" x="0" y="0" font-size="4.4" fill="#3a3a3a" text-anchor="end" font-weight="normal" >Total</text>
<text transform="translate(256.97,274.48) scale(0.84,1)" x="0" y="0" font-size="4.4" fill="#3a3a3a" text-anchor="start" font-weight="normal" >Mean</text>
<text transform="translate(287.55,274.48) scale(0.84,1)" x="0" y="0" font-size="4.4" fill="#3a3a3a" text-anchor="end" font-weight="normal" >3.82</text>
<text transform="translate(301.79,274.48) scale(0.84,1)" x="0" y="0" font-size="4.4" fill="#3a3a3a" text-anchor="end" font-weight="normal" >0.47</text>
<text transform="translate(259.03,285.64) scale(0.84,1)" x="0" y="0" font-size="4.4" fill="#3a3a3a" text-anchor="start" font-weight="normal" >SD</text>
<text transform="translate(287.55,285.64) scale(0.84,1)" x="0" y="0" font-size="4.4" fill="#3a3a3a" text-anchor="end" font-weight="normal" >2.06</text>
<text transform="translate(301.79,285.64) scale(0.84,1)" x="0" y="0" font-size="4.4" fill="#3a3a3a" text-anchor="end" font-weight="normal" >2.47</text>
<line x1="20.90" y1="203.50" x2="20.90" y2="236.80" stroke="#888" stroke-width="0.5" />
<line x1="19.90" y1="236.80" x2="20.90" y2="236.80" stroke="#555" stroke-width="0.4" />
<text transform="translate(19.10,238.30) scale(0.9,1)" x="0" y="0" font-size="4.2" fill="#3a3a3a" text-anchor="end" font-weight="normal" >0</text>
<line x1="19.90" y1="228.70" x2="20.90" y2="228.70" stroke="#555" stroke-width="0.4" />
<text transform="translate(19.10,230.20) scale(0.9,1)" x="0" y="0" font-size="4.2" fill="#3a3a3a" text-anchor="end" font-weight="normal" >2</text>
<line x1="19.90" y1="220.60" x2="20.90" y2="220.60" stroke="#555" stroke-width="0.4" />
<text transform="translate(19.10,222.10) scale(0.9,1)" x="0" y="0" font-size="4.2" fill="#3a3a3a" text-anchor="end" font-weight="normal" >4</text>
<line x1="19.90" y1="212.50" x2="20.90" y2="212.50" stroke="#555" stroke-width="0.4" />
<text transform="translate(19.10,214.00) scale(0.9,1)" x="0" y="0" font-size="4.2" fill="#3a3a3a" text-anchor="end" font-weight="normal" >6</text>
<line x1="19.90" y1="204.40" x2="20.90" y2="204.40" stroke="#555" stroke-width="0.4" />
<text transform="translate(19.10,205.90) scale(0.9,1)" x="0" y="0" font-size="4.2" fill="#3a3a3a" text-anchor="end" font-weight="normal" >8</text>
<line x1="29.50" y1="236.80" x2="29.50" y2="237.80" stroke="#555" stroke-width="0.4" />
<text transform="translate(29.50,242.90) scale(0.92,1)" x="0" y="0" font-size="4.4" fill="#3a3a3a" text-anchor="middle" font-weight="normal" >-15</text>
<line x1="40.20" y1="236.80" x2="40.20" y2="237.80" stroke="#555" stroke-width="0.4" />
<text transform="translate(40.20,242.90) scale(0.92,1)" x="0" y="0" font-size="4.4" fill="#3a3a3a" text-anchor="middle" font-weight="normal" >-10</text>
<line x1="50.90" y1="236.80" x2="50.90" y2="237.80" stroke="#555" stroke-width="0.4" />
<text transform="translate(50.90,242.90) scale(0.92,1)" x="0" y="0" font-size="4.4" fill="#3a3a3a" text-anchor="middle" font-weight="normal" >-5</text>
<line x1="61.60" y1="236.80" x2="61.60" y2="237.80" stroke="#555" stroke-width="0.4" />
<text transform="translate(61.60,242.90) scale(0.92,1)" x="0" y="0" font-size="4.4" fill="#3a3a3a" text-anchor="middle" font-weight="normal" >0</text>
<line x1="72.30" y1="236.80" x2="72.30" y2="237.80" stroke="#555" stroke-width="0.4" />
<text transform="translate(72.30,242.90) scale(0.92,1)" x="0" y="0" font-size="4.4" fill="#3a3a3a" text-anchor="middle" font-weight="normal" >5</text>
<line x1="83.00" y1="236.80" x2="83.00" y2="237.80" stroke="#555" stroke-width="0.4" />
<text transform="translate(83.00,242.90) scale(0.92,1)" x="0" y="0" font-size="4.4" fill="#3a3a3a" text-anchor="middle" font-weight="normal" >10</text>
<line x1="93.70" y1="236.80" x2="93.70" y2="237.80" stroke="#555" stroke-width="0.4" />
<text transform="translate(93.70,242.90) scale(0.92,1)" x="0" y="0" font-size="4.4" fill="#3a3a3a" text-anchor="middle" font-weight="normal" >15</text>
<text x="54.10" y="250.80" font-size="4.8" fill="#333" text-anchor="start" font-weight="normal" textLength="15.60" lengthAdjust="spacingAndGlyphs" >Change</text>
<rect x="39.20" y="232.75" width="1.55" height="4.05" fill="#1a1ae8" stroke="none" stroke-width="1" rx="0" />
<rect x="39.20" y="232.75" width="1.55" height="4.05" fill="#ea3f8e" stroke="none" stroke-width="1" rx="0" />
<rect x="45.80" y="232.75" width="1.35" height="4.05" fill="#1a1ae8" stroke="none" stroke-width="1" rx="0" />
<rect x="51.90" y="224.65" width="1.55" height="12.15" fill="#1a1ae8" stroke="none" stroke-width="1" rx="0" />
<rect x="51.90" y="232.75" width="1.55" height="4.05" fill="#ea3f8e" stroke="none" stroke-width="1" rx="0" />
<rect x="53.60" y="232.75" width="1.35" height="4.05" fill="#1a1ae8" stroke="none" stroke-width="1" rx="0" />
<rect x="53.60" y="232.75" width="1.35" height="4.05" fill="#ea3f8e" stroke="none" stroke-width="1" rx="0" />
<rect x="55.10" y="232.75" width="1.35" height="4.05" fill="#1a1ae8" stroke="none" stroke-width="1" rx="0" />
<rect x="55.10" y="232.75" width="1.35" height="4.05" fill="#ea3f8e" stroke="none" stroke-width="1" rx="0" />
<rect x="56.60" y="232.75" width="1.45" height="4.05" fill="#1a1ae8" stroke="none" stroke-width="1" rx="0" />
<rect x="56.60" y="232.75" width="1.45" height="4.05" fill="#ea3f8e" stroke="none" stroke-width="1" rx="0" />
<rect x="58.20" y="224.65" width="1.75" height="12.15" fill="#1a1ae8" stroke="none" stroke-width="1" rx="0" />
<rect x="58.20" y="232.75" width="1.75" height="4.05" fill="#ea3f8e" stroke="none" stroke-width="1" rx="0" />
<rect x="60.10" y="224.65" width="1.75" height="12.15" fill="#1a1ae8" stroke="none" stroke-width="1" rx="0" />
<rect x="60.10" y="232.75" width="1.75" height="4.05" fill="#ea3f8e" stroke="none" stroke-width="1" rx="0" />
<rect x="62.20" y="204.40" width="1.75" height="32.40" fill="#1a1ae8" stroke="none" stroke-width="1" rx="0" />
<rect x="62.20" y="220.60" width="1.75" height="16.20" fill="#ea3f8e" stroke="none" stroke-width="1" rx="0" />
<rect x="64.10" y="216.55" width="1.75" height="20.25" fill="#1a1ae8" stroke="none" stroke-width="1" rx="0" />
<rect x="64.10" y="228.70" width="1.75" height="8.10" fill="#ea3f8e" stroke="none" stroke-width="1" rx="0" />
<rect x="66.00" y="208.45" width="1.55" height="28.35" fill="#1a1ae8" stroke="none" stroke-width="1" rx="0" />
<rect x="66.00" y="228.70" width="1.55" height="8.10" fill="#ea3f8e" stroke="none" stroke-width="1" rx="0" />
<rect x="67.70" y="212.50" width="1.65" height="24.30" fill="#1a1ae8" stroke="none" stroke-width="1" rx="0" />
<rect x="67.70" y="228.70" width="1.65" height="8.10" fill="#ea3f8e" stroke="none" stroke-width="1" rx="0" />
<rect x="69.50" y="220.60" width="1.65" height="16.20" fill="#1a1ae8" stroke="none" stroke-width="1" rx="0" />
<rect x="69.50" y="232.75" width="1.65" height="4.05" fill="#ea3f8e" stroke="none" stroke-width="1" rx="0" />
<rect x="71.30" y="228.70" width="1.55" height="8.10" fill="#1a1ae8" stroke="none" stroke-width="1" rx="0" />
<rect x="73.00" y="232.75" width="1.25" height="4.05" fill="#1a1ae8" stroke="none" stroke-width="1" rx="0" />
<rect x="74.40" y="212.50" width="1.85" height="24.30" fill="#1a1ae8" stroke="none" stroke-width="1" rx="0" />
<rect x="74.40" y="232.75" width="1.85" height="4.05" fill="#ea3f8e" stroke="none" stroke-width="1" rx="0" />
<rect x="76.40" y="224.65" width="1.65" height="12.15" fill="#1a1ae8" stroke="none" stroke-width="1" rx="0" />
<rect x="76.40" y="232.75" width="1.65" height="4.05" fill="#ea3f8e" stroke="none" stroke-width="1" rx="0" />
<rect x="78.20" y="232.75" width="1.45" height="4.05" fill="#1a1ae8" stroke="none" stroke-width="1" rx="0" />
<rect x="84.00" y="228.70" width="1.55" height="8.10" fill="#1a1ae8" stroke="none" stroke-width="1" rx="0" />
<rect x="85.70" y="232.75" width="1.35" height="4.05" fill="#1a1ae8" stroke="none" stroke-width="1" rx="0" />
<rect x="94.50" y="232.75" width="1.55" height="4.05" fill="#1a1ae8" stroke="none" stroke-width="1" rx="0" />
<rect x="96.20" y="232.75" width="1.55" height="4.05" fill="#1a1ae8" stroke="none" stroke-width="1" rx="0" />
<line x1="20.90" y1="236.80" x2="101.90" y2="236.80" stroke="#666" stroke-width="0.6" />
<path d="M100.70,235.90 L101.90,236.80 L100.70,237.70" fill="none" stroke="#555" stroke-width="0.4"/>
<line x1="130.40" y1="214.00" x2="130.40" y2="236.80" stroke="#888" stroke-width="0.5" />
<line x1="129.40" y1="236.80" x2="130.40" y2="236.80" stroke="#555" stroke-width="0.4" />
<text transform="translate(128.60,238.30) scale(0.9,1)" x="0" y="0" font-size="4.2" fill="#3a3a3a" text-anchor="end" font-weight="normal" >0</text>
<line x1="129.40" y1="228.60" x2="130.40" y2="228.60" stroke="#555" stroke-width="0.4" />
<text transform="translate(128.60,230.10) scale(0.9,1)" x="0" y="0" font-size="4.2" fill="#3a3a3a" text-anchor="end" font-weight="normal" >2</text>
<line x1="129.40" y1="220.40" x2="130.40" y2="220.40" stroke="#555" stroke-width="0.4" />
<text transform="translate(128.60,221.90) scale(0.9,1)" x="0" y="0" font-size="4.2" fill="#3a3a3a" text-anchor="end" font-weight="normal" >4</text>
<line x1="133.60" y1="236.80" x2="133.60" y2="237.80" stroke="#555" stroke-width="0.4" />
<text transform="translate(133.60,242.90) scale(0.92,1)" x="0" y="0" font-size="4.4" fill="#3a3a3a" text-anchor="middle" font-weight="normal" >40</text>
<line x1="143.00" y1="236.80" x2="143.00" y2="237.80" stroke="#555" stroke-width="0.4" />
<text transform="translate(143.00,242.90) scale(0.92,1)" x="0" y="0" font-size="4.4" fill="#3a3a3a" text-anchor="middle" font-weight="normal" >30</text>
<line x1="152.40" y1="236.80" x2="152.40" y2="237.80" stroke="#555" stroke-width="0.4" />
<text transform="translate(152.40,242.90) scale(0.92,1)" x="0" y="0" font-size="4.4" fill="#3a3a3a" text-anchor="middle" font-weight="normal" >20</text>
<line x1="161.80" y1="236.80" x2="161.80" y2="237.80" stroke="#555" stroke-width="0.4" />
<text transform="translate(161.80,242.90) scale(0.92,1)" x="0" y="0" font-size="4.4" fill="#3a3a3a" text-anchor="middle" font-weight="normal" >10</text>
<line x1="171.20" y1="236.80" x2="171.20" y2="237.80" stroke="#555" stroke-width="0.4" />
<text transform="translate(171.20,242.90) scale(0.92,1)" x="0" y="0" font-size="4.4" fill="#3a3a3a" text-anchor="middle" font-weight="normal" >0</text>
<line x1="180.60" y1="236.80" x2="180.60" y2="237.80" stroke="#555" stroke-width="0.4" />
<text transform="translate(180.60,242.90) scale(0.92,1)" x="0" y="0" font-size="4.4" fill="#3a3a3a" text-anchor="middle" font-weight="normal" >-10</text>
<line x1="190.00" y1="236.80" x2="190.00" y2="237.80" stroke="#555" stroke-width="0.4" />
<text transform="translate(190.00,242.90) scale(0.92,1)" x="0" y="0" font-size="4.4" fill="#3a3a3a" text-anchor="middle" font-weight="normal" >-20</text>
<line x1="199.40" y1="236.80" x2="199.40" y2="237.80" stroke="#555" stroke-width="0.4" />
<text transform="translate(199.40,242.90) scale(0.92,1)" x="0" y="0" font-size="4.4" fill="#3a3a3a" text-anchor="middle" font-weight="normal" >-30</text>
<line x1="208.80" y1="236.80" x2="208.80" y2="237.80" stroke="#555" stroke-width="0.4" />
<text transform="translate(208.80,242.90) scale(0.92,1)" x="0" y="0" font-size="4.4" fill="#3a3a3a" text-anchor="middle" font-weight="normal" >-40</text>
<text x="163.90" y="250.80" font-size="4.8" fill="#333" text-anchor="start" font-weight="normal" textLength="15.60" lengthAdjust="spacingAndGlyphs" >Change</text>
<rect x="153.80" y="232.70" width="1.60" height="4.10" fill="#1a1ae8" stroke="none" stroke-width="1" rx="0" />
<rect x="155.55" y="232.70" width="1.60" height="4.10" fill="#1a1ae8" stroke="none" stroke-width="1" rx="0" />
<rect x="157.30" y="232.70" width="1.60" height="4.10" fill="#1a1ae8" stroke="none" stroke-width="1" rx="0" />
<rect x="159.05" y="232.70" width="1.60" height="4.10" fill="#1a1ae8" stroke="none" stroke-width="1" rx="0" />
<rect x="163.00" y="216.30" width="1.45" height="20.50" fill="#1a1ae8" stroke="none" stroke-width="1" rx="0" />
<rect x="163.00" y="224.50" width="1.45" height="12.30" fill="#ea3f8e" stroke="none" stroke-width="1" rx="0" />
<rect x="164.60" y="220.40" width="1.65" height="16.40" fill="#1a1ae8" stroke="none" stroke-width="1" rx="0" />
<rect x="164.60" y="232.70" width="1.65" height="4.10" fill="#ea3f8e" stroke="none" stroke-width="1" rx="0" />
<rect x="166.40" y="212.20" width="1.65" height="24.60" fill="#1a1ae8" stroke="none" stroke-width="1" rx="0" />
<rect x="166.40" y="224.50" width="1.65" height="12.30" fill="#ea3f8e" stroke="none" stroke-width="1" rx="0" />
<rect x="168.20" y="220.40" width="1.65" height="16.40" fill="#1a1ae8" stroke="none" stroke-width="1" rx="0" />
<rect x="168.20" y="232.70" width="1.65" height="4.10" fill="#ea3f8e" stroke="none" stroke-width="1" rx="0" />
<rect x="170.00" y="204.00" width="1.65" height="32.80" fill="#1a1ae8" stroke="none" stroke-width="1" rx="0" />
<rect x="170.00" y="228.60" width="1.65" height="8.20" fill="#ea3f8e" stroke="none" stroke-width="1" rx="0" />
<rect x="171.80" y="216.30" width="1.55" height="20.50" fill="#1a1ae8" stroke="none" stroke-width="1" rx="0" />
<rect x="171.80" y="232.70" width="1.55" height="4.10" fill="#ea3f8e" stroke="none" stroke-width="1" rx="0" />
<rect x="173.50" y="216.30" width="1.65" height="20.50" fill="#1a1ae8" stroke="none" stroke-width="1" rx="0" />
<rect x="173.50" y="232.70" width="1.65" height="4.10" fill="#ea3f8e" stroke="none" stroke-width="1" rx="0" />
<rect x="175.30" y="228.60" width="1.55" height="8.20" fill="#1a1ae8" stroke="none" stroke-width="1" rx="0" />
<rect x="175.30" y="232.70" width="1.55" height="4.10" fill="#ea3f8e" stroke="none" stroke-width="1" rx="0" />
<rect x="177.00" y="228.60" width="1.45" height="8.20" fill="#1a1ae8" stroke="none" stroke-width="1" rx="0" />
<rect x="177.00" y="228.60" width="1.45" height="8.20" fill="#ea3f8e" stroke="none" stroke-width="1" rx="0" />
<rect x="178.60" y="228.60" width="1.45" height="8.20" fill="#1a1ae8" stroke="none" stroke-width="1" rx="0" />
<rect x="178.60" y="228.60" width="1.45" height="8.20" fill="#ea3f8e" stroke="none" stroke-width="1" rx="0" />
<rect x="180.20" y="228.60" width="1.55" height="8.20" fill="#1a1ae8" stroke="none" stroke-width="1" rx="0" />
<rect x="181.90" y="232.70" width="1.45" height="4.10" fill="#1a1ae8" stroke="none" stroke-width="1" rx="0" />
<rect x="183.80" y="228.60" width="1.45" height="8.20" fill="#1a1ae8" stroke="none" stroke-width="1" rx="0" />
<rect x="185.40" y="232.70" width="1.35" height="4.10" fill="#1a1ae8" stroke="none" stroke-width="1" rx="0" />
<rect x="189.00" y="232.70" width="1.35" height="4.10" fill="#1a1ae8" stroke="none" stroke-width="1" rx="0" />
<rect x="197.30" y="232.70" width="1.55" height="4.10" fill="#1a1ae8" stroke="none" stroke-width="1" rx="0" />
<rect x="208.00" y="232.70" width="1.65" height="4.10" fill="#1a1ae8" stroke="none" stroke-width="1" rx="0" />
<rect x="208.00" y="232.70" width="1.65" height="4.10" fill="#ea3f8e" stroke="none" stroke-width="1" rx="0" />
<line x1="130.40" y1="236.80" x2="212.00" y2="236.80" stroke="#666" stroke-width="0.6" />
<path d="M210.80,235.90 L212.00,236.80 L210.80,237.70" fill="none" stroke="#555" stroke-width="0.4"/>
<line x1="240.00" y1="203.50" x2="240.00" y2="236.80" stroke="#888" stroke-width="0.5" />
<line x1="239.00" y1="236.80" x2="240.00" y2="236.80" stroke="#555" stroke-width="0.4" />
<text transform="translate(238.20,238.30) scale(0.9,1)" x="0" y="0" font-size="4.2" fill="#3a3a3a" text-anchor="end" font-weight="normal" >0</text>
<line x1="239.00" y1="227.50" x2="240.00" y2="227.50" stroke="#555" stroke-width="0.4" />
<text transform="translate(238.20,229.00) scale(0.9,1)" x="0" y="0" font-size="4.2" fill="#3a3a3a" text-anchor="end" font-weight="normal" >5</text>
<line x1="239.00" y1="218.20" x2="240.00" y2="218.20" stroke="#555" stroke-width="0.4" />
<text transform="translate(238.20,219.70) scale(0.9,1)" x="0" y="0" font-size="4.2" fill="#3a3a3a" text-anchor="end" font-weight="normal" >10</text>
<line x1="239.00" y1="208.90" x2="240.00" y2="208.90" stroke="#555" stroke-width="0.4" />
<text transform="translate(238.20,210.40) scale(0.9,1)" x="0" y="0" font-size="4.2" fill="#3a3a3a" text-anchor="end" font-weight="normal" >15</text>
<line x1="243.90" y1="236.80" x2="243.90" y2="237.80" stroke="#555" stroke-width="0.4" />
<text transform="translate(243.90,242.90) scale(0.92,1)" x="0" y="0" font-size="4.4" fill="#3a3a3a" text-anchor="middle" font-weight="normal" >-10</text>
<line x1="262.70" y1="236.80" x2="262.70" y2="237.80" stroke="#555" stroke-width="0.4" />
<text transform="translate(262.70,242.90) scale(0.92,1)" x="0" y="0" font-size="4.4" fill="#3a3a3a" text-anchor="middle" font-weight="normal" >-5</text>
<line x1="281.50" y1="236.80" x2="281.50" y2="237.80" stroke="#555" stroke-width="0.4" />
<text transform="translate(281.50,242.90) scale(0.92,1)" x="0" y="0" font-size="4.4" fill="#3a3a3a" text-anchor="middle" font-weight="normal" >0</text>
<line x1="300.30" y1="236.80" x2="300.30" y2="237.80" stroke="#555" stroke-width="0.4" />
<text transform="translate(300.30,242.90) scale(0.92,1)" x="0" y="0" font-size="4.4" fill="#3a3a3a" text-anchor="middle" font-weight="normal" >5</text>
<line x1="319.10" y1="236.80" x2="319.10" y2="237.80" stroke="#555" stroke-width="0.4" />
<text transform="translate(319.10,242.90) scale(0.92,1)" x="0" y="0" font-size="4.4" fill="#3a3a3a" text-anchor="middle" font-weight="normal" >10</text>
<text x="273.20" y="250.80" font-size="4.8" fill="#333" text-anchor="start" font-weight="normal" textLength="15.60" lengthAdjust="spacingAndGlyphs" >Change</text>
<rect x="283.70" y="222.00" width="2.85" height="14.80" fill="#1a1ae8" stroke="none" stroke-width="1" rx="0" />
<rect x="283.70" y="233.30" width="2.85" height="3.50" fill="#ea3f8e" stroke="none" stroke-width="1" rx="0" />
<rect x="287.50" y="229.30" width="2.65" height="7.50" fill="#1a1ae8" stroke="none" stroke-width="1" rx="0" />
<rect x="287.50" y="235.00" width="2.65" height="1.80" fill="#ea3f8e" stroke="none" stroke-width="1" rx="0" />
<rect x="291.00" y="204.00" width="2.85" height="32.80" fill="#1a1ae8" stroke="none" stroke-width="1" rx="0" />
<rect x="291.00" y="226.00" width="2.85" height="10.80" fill="#ea3f8e" stroke="none" stroke-width="1" rx="0" />
<rect x="294.70" y="222.00" width="3.15" height="14.80" fill="#1a1ae8" stroke="none" stroke-width="1" rx="0" />
<rect x="294.70" y="231.70" width="3.15" height="5.10" fill="#ea3f8e" stroke="none" stroke-width="1" rx="0" />
<rect x="298.70" y="224.00" width="2.75" height="12.80" fill="#1a1ae8" stroke="none" stroke-width="1" rx="0" />
<rect x="298.70" y="234.80" width="2.75" height="2.00" fill="#ea3f8e" stroke="none" stroke-width="1" rx="0" />
<rect x="302.40" y="231.70" width="2.75" height="5.10" fill="#1a1ae8" stroke="none" stroke-width="1" rx="0" />
<rect x="302.40" y="234.80" width="2.75" height="2.00" fill="#ea3f8e" stroke="none" stroke-width="1" rx="0" />
<rect x="306.00" y="232.70" width="2.55" height="4.10" fill="#1a1ae8" stroke="none" stroke-width="1" rx="0" />
<rect x="306.00" y="234.80" width="2.55" height="2.00" fill="#ea3f8e" stroke="none" stroke-width="1" rx="0" />
<rect x="309.30" y="231.70" width="3.25" height="5.10" fill="#1a1ae8" stroke="none" stroke-width="1" rx="0" />
<rect x="309.30" y="234.80" width="3.25" height="2.00" fill="#ea3f8e" stroke="none" stroke-width="1" rx="0" />
<rect x="317.00" y="234.80" width="2.85" height="2.00" fill="#1a1ae8" stroke="none" stroke-width="1" rx="0" />
<rect x="317.00" y="236.30" width="2.85" height="0.50" fill="#ea3f8e" stroke="none" stroke-width="1" rx="0" />
<line x1="240.00" y1="236.80" x2="322.20" y2="236.80" stroke="#666" stroke-width="0.6" />
<path d="M321.00,235.90 L322.20,236.80 L321.00,237.70" fill="none" stroke="#555" stroke-width="0.4"/>
<rect x="350.00" y="23.75" width="150.00" height="96.00" fill="#fff" stroke="#e4e4e4" stroke-width="0.6" rx="0" />
<rect x="350.30" y="40.60" width="149.40" height="38.50" fill="#f1f1f1" stroke="none" stroke-width="1" rx="0" />
<line x1="350.00" y1="40.60" x2="500.00" y2="40.60" stroke="#e2e2e2" stroke-width="0.5" />
<line x1="350.00" y1="79.10" x2="500.00" y2="79.10" stroke="#e2e2e2" stroke-width="0.5" />
<text x="434.80" y="33.20" font-size="4.0" fill="#444" text-anchor="start" font-weight="normal" >Distribution</text>
<circle cx="353.4" cy="58.6" r="0.9" fill="#555"/>
<text x="373.00" y="60.50" font-size="4.0" fill="#444" text-anchor="middle" font-weight="normal" >Gender</text>
<circle cx="353.3" cy="100" r="1.3" fill="none" stroke="#bbb" stroke-width="0.5"/>
<text x="372.60" y="101.80" font-size="4.0" fill="#444" text-anchor="middle" font-weight="normal" >Date of birth</text>
<line x1="446.20" y1="44.00" x2="446.20" y2="68.40" stroke="#dcdcdc" stroke-width="0.4" />
<line x1="472.40" y1="44.00" x2="472.40" y2="68.40" stroke="#dcdcdc" stroke-width="0.4" />
<rect x="393.80" y="47.20" width="40.61" height="4.70" fill="#e0408c" stroke="none" stroke-width="1" rx="0" />
<rect x="393.80" y="54.10" width="96.94" height="4.90" fill="#3a3ae0" stroke="none" stroke-width="1" rx="0" />
<text x="394.60" y="51.00" font-size="3.6" fill="#f4f2d8" text-anchor="start" font-weight="normal" stroke="#444" stroke-width="0.12">Female</text>
<text x="394.60" y="58.00" font-size="3.6" fill="#f4f2d8" text-anchor="start" font-weight="normal" stroke="#444" stroke-width="0.12">Male</text>
<text x="394.60" y="65.20" font-size="3.6" fill="#333" text-anchor="start" font-weight="normal" >Unknown</text>
<line x1="393.80" y1="68.40" x2="491.00" y2="68.40" stroke="#555" stroke-width="0.5" />
<text x="393.80" y="73.00" font-size="3.6" fill="#444" text-anchor="middle" font-weight="normal" >0</text>
<text x="420.00" y="73.00" font-size="3.6" fill="#444" text-anchor="middle" font-weight="normal" >10</text>
<text x="446.20" y="73.00" font-size="3.6" fill="#444" text-anchor="middle" font-weight="normal" >20</text>
<text x="472.40" y="73.00" font-size="3.6" fill="#444" text-anchor="middle" font-weight="normal" >30</text>
<line x1="417.73" y1="86.00" x2="417.73" y2="109.80" stroke="#e0e0e0" stroke-width="0.4" />
<line x1="442.15" y1="86.00" x2="442.15" y2="109.80" stroke="#e0e0e0" stroke-width="0.4" />
<line x1="466.57" y1="86.00" x2="466.57" y2="109.80" stroke="#e0e0e0" stroke-width="0.4" />
<rect x="394.90" y="87.10" width="19.60" height="3.00" fill="#fff" stroke="none" stroke-width="1" rx="0" fill-opacity="0.55"/>
<rect x="393.50" y="87.70" width="1.30" height="1.80" fill="#3f8f1f" stroke="none" stroke-width="1" rx="0" />
<text x="395.20" y="89.75" font-size="3.3" fill="#333" text-anchor="start" font-weight="normal" textLength="18.80" lengthAdjust="spacingAndGlyphs" >1920 - 1930</text>
<rect x="393.30" y="91.00" width="39.08" height="2.00" fill="#5a9a16" stroke="none" stroke-width="1" rx="0" />
<rect x="394.90" y="90.50" width="19.60" height="3.00" fill="#fff" stroke="none" stroke-width="1" rx="0" fill-opacity="0.55"/>
<rect x="393.50" y="91.10" width="1.30" height="1.80" fill="#5a9a16" stroke="none" stroke-width="1" rx="0" />
<text x="395.20" y="93.15" font-size="3.3" fill="#333" text-anchor="start" font-weight="normal" textLength="18.80" lengthAdjust="spacingAndGlyphs" >1930 - 1940</text>
<rect x="393.30" y="94.80" width="97.70" height="2.00" fill="#7aa012" stroke="none" stroke-width="1" rx="0" />
<rect x="394.90" y="94.30" width="19.60" height="3.00" fill="#fff" stroke="none" stroke-width="1" rx="0" fill-opacity="0.55"/>
<rect x="393.50" y="94.90" width="1.30" height="1.80" fill="#7aa012" stroke="none" stroke-width="1" rx="0" />
<text x="395.20" y="96.95" font-size="3.3" fill="#333" text-anchor="start" font-weight="normal" textLength="18.80" lengthAdjust="spacingAndGlyphs" >1940 - 1950</text>
<rect x="393.30" y="98.30" width="83.05" height="2.00" fill="#a3a514" stroke="none" stroke-width="1" rx="0" />
<rect x="394.90" y="97.80" width="19.60" height="3.00" fill="#fff" stroke="none" stroke-width="1" rx="0" fill-opacity="0.55"/>
<rect x="393.50" y="98.40" width="1.30" height="1.80" fill="#a3a514" stroke="none" stroke-width="1" rx="0" />
<text x="395.20" y="100.45" font-size="3.3" fill="#333" text-anchor="start" font-weight="normal" textLength="18.80" lengthAdjust="spacingAndGlyphs" >1950 - 1960</text>
<rect x="393.30" y="102.20" width="34.20" height="2.00" fill="#d8ac22" stroke="none" stroke-width="1" rx="0" />
<rect x="394.90" y="101.70" width="19.60" height="3.00" fill="#fff" stroke="none" stroke-width="1" rx="0" fill-opacity="0.55"/>
<rect x="393.50" y="102.30" width="1.30" height="1.80" fill="#d8ac22" stroke="none" stroke-width="1" rx="0" />
<text x="395.20" y="104.35" font-size="3.3" fill="#333" text-anchor="start" font-weight="normal" textLength="18.80" lengthAdjust="spacingAndGlyphs" >1960 - 1970</text>
<rect x="394.90" y="105.40" width="19.60" height="3.00" fill="#fff" stroke="none" stroke-width="1" rx="0" fill-opacity="0.55"/>
<rect x="393.50" y="106.00" width="1.30" height="1.80" fill="#e8b848" stroke="none" stroke-width="1" rx="0" />
<text x="395.20" y="108.05" font-size="3.3" fill="#333" text-anchor="start" font-weight="normal" textLength="18.80" lengthAdjust="spacingAndGlyphs" >1970 - 1980</text>
<line x1="393.30" y1="109.80" x2="491.00" y2="109.80" stroke="#555" stroke-width="0.5" />
<text x="393.30" y="114.60" font-size="3.6" fill="#444" text-anchor="middle" font-weight="normal" >0</text>
<text x="417.73" y="114.60" font-size="3.6" fill="#444" text-anchor="middle" font-weight="normal" >5</text>
<text x="442.15" y="114.60" font-size="3.6" fill="#444" text-anchor="middle" font-weight="normal" >10</text>
<text x="466.57" y="114.60" font-size="3.6" fill="#444" text-anchor="middle" font-weight="normal" >15</text>
<text x="491.00" y="114.60" font-size="3.6" fill="#444" text-anchor="middle" font-weight="normal" >20</text>
<rect x="349.10" y="153.50" width="79.10" height="13.20" fill="#7e7e7e" stroke="none" stroke-width="1" rx="0" />
<text x="353.80" y="161.80" font-size="4.5" fill="#fff" text-anchor="start" font-weight="bold" textLength="70.00" lengthAdjust="spacingAndGlyphs" >Spearman's rank-order correlation</text>
<text x="433.80" y="161.80" font-size="4.5" fill="#2563b0" text-anchor="start" font-weight="normal" textLength="45.10" lengthAdjust="spacingAndGlyphs" >Mann-Whitney rank test</text>
<rect x="349.60" y="166.70" width="150.40" height="116.30" fill="#fff" stroke="#e0e0e0" stroke-width="0.6" rx="0" />
<rect x="354.30" y="172.40" width="140.30" height="105.40" fill="#fff" stroke="#e6e6e6" stroke-width="0.5" rx="0" />
<line x1="354.30" y1="186.50" x2="490.00" y2="186.50" stroke="#e6e6e6" stroke-width="0.5" />
<line x1="394.60" y1="172.40" x2="394.60" y2="277.80" stroke="#efefef" stroke-width="0.4" />
<line x1="426.30" y1="172.40" x2="426.30" y2="277.80" stroke="#efefef" stroke-width="0.4" />
<line x1="458.20" y1="172.40" x2="458.20" y2="277.80" stroke="#efefef" stroke-width="0.4" />
<text transform="translate(371.20,180.60) scale(0.88,1)" x="0" y="0" font-size="4.0" fill="#555" text-anchor="middle" font-weight="normal" >Baseline Variable</text>
<text transform="translate(407.80,180.60) scale(0.88,1)" x="0" y="0" font-size="4.0" fill="#555" text-anchor="middle" font-weight="normal" >UPDRS2</text>
<text transform="translate(439.50,180.60) scale(0.88,1)" x="0" y="0" font-size="4.0" fill="#555" text-anchor="middle" font-weight="normal" >SDM</text>
<text transform="translate(472.30,180.60) scale(0.88,1)" x="0" y="0" font-size="4.0" fill="#555" text-anchor="middle" font-weight="normal" >RBDQ</text>
<rect x="390.70" y="177.60" width="0.45" height="0.45" fill="#999" stroke="none" stroke-width="1" rx="0" />
<rect x="390.70" y="178.90" width="0.45" height="0.45" fill="#999" stroke="none" stroke-width="1" rx="0" />
<rect x="390.70" y="180.20" width="0.45" height="0.45" fill="#999" stroke="none" stroke-width="1" rx="0" />
<rect x="423.50" y="177.60" width="0.45" height="0.45" fill="#999" stroke="none" stroke-width="1" rx="0" />
<rect x="423.50" y="178.90" width="0.45" height="0.45" fill="#999" stroke="none" stroke-width="1" rx="0" />
<rect x="423.50" y="180.20" width="0.45" height="0.45" fill="#999" stroke="none" stroke-width="1" rx="0" />
<rect x="455.20" y="177.60" width="0.45" height="0.45" fill="#999" stroke="none" stroke-width="1" rx="0" />
<rect x="455.20" y="178.90" width="0.45" height="0.45" fill="#999" stroke="none" stroke-width="1" rx="0" />
<rect x="455.20" y="180.20" width="0.45" height="0.45" fill="#999" stroke="none" stroke-width="1" rx="0" />
<rect x="487.10" y="177.60" width="0.45" height="0.45" fill="#999" stroke="none" stroke-width="1" rx="0" />
<rect x="487.10" y="178.90" width="0.45" height="0.45" fill="#999" stroke="none" stroke-width="1" rx="0" />
<rect x="487.10" y="180.20" width="0.45" height="0.45" fill="#999" stroke="none" stroke-width="1" rx="0" />
<text transform="translate(371.20,193.90) scale(0.88,1)" x="0" y="0" font-size="4.0" fill="#555" text-anchor="middle" font-weight="normal" >Epworth Sleepiness</text>
<text transform="translate(371.20,199.50) scale(0.88,1)" x="0" y="0" font-size="4.0" fill="#555" text-anchor="middle" font-weight="normal" >Scale (ESS)</text>
<text transform="translate(407.80,193.90) scale(0.88,1)" x="0" y="0" font-size="4.0" fill="#555" text-anchor="middle" font-weight="normal" >0.08</text>
<text transform="translate(439.50,193.90) scale(0.88,1)" x="0" y="0" font-size="4.0" fill="#555" text-anchor="middle" font-weight="normal" >-0.10</text>
<text transform="translate(472.30,193.90) scale(0.88,1)" x="0" y="0" font-size="4.0" fill="#555" text-anchor="middle" font-weight="normal" >0.36</text>
<line x1="354.30" y1="203.40" x2="490.00" y2="203.40" stroke="#ececec" stroke-width="0.5" />
<text transform="translate(371.20,210.40) scale(0.88,1)" x="0" y="0" font-size="4.0" fill="#555" text-anchor="middle" font-weight="normal" >Geriatric Depression</text>
<text transform="translate(371.20,216.00) scale(0.88,1)" x="0" y="0" font-size="4.0" fill="#555" text-anchor="middle" font-weight="normal" >Scale (GDS)</text>
<text transform="translate(407.80,210.40) scale(0.88,1)" x="0" y="0" font-size="4.0" fill="#555" text-anchor="middle" font-weight="normal" >0.08</text>
<text transform="translate(439.50,210.40) scale(0.88,1)" x="0" y="0" font-size="4.0" fill="#555" text-anchor="middle" font-weight="normal" >-0.30</text>
<text transform="translate(472.30,210.40) scale(0.88,1)" x="0" y="0" font-size="4.0" fill="#555" text-anchor="middle" font-weight="normal" >0.34</text>
<line x1="354.30" y1="220.20" x2="490.00" y2="220.20" stroke="#ececec" stroke-width="0.5" />
<text transform="translate(371.20,227.20) scale(0.88,1)" x="0" y="0" font-size="4.0" fill="#555" text-anchor="middle" font-weight="normal" >Hopkins Verbal</text>
<text transform="translate(371.20,232.80) scale(0.88,1)" x="0" y="0" font-size="4.0" fill="#555" text-anchor="middle" font-weight="normal" >Learning Test (HVLT)</text>
<text transform="translate(407.80,227.20) scale(0.88,1)" x="0" y="0" font-size="4.0" fill="#555" text-anchor="middle" font-weight="normal" >-0.13</text>
<text transform="translate(439.50,227.20) scale(0.88,1)" x="0" y="0" font-size="4.0" fill="#555" text-anchor="middle" font-weight="normal" >-0.11</text>
<text transform="translate(472.30,227.20) scale(0.88,1)" x="0" y="0" font-size="4.0" fill="#555" text-anchor="middle" font-weight="normal" >0.03</text>
<line x1="354.30" y1="236.30" x2="490.00" y2="236.30" stroke="#ececec" stroke-width="0.5" />
<text transform="translate(371.20,243.70) scale(0.88,1)" x="0" y="0" font-size="4.0" fill="#555" text-anchor="middle" font-weight="normal" >Benton Judgment of</text>
<text transform="translate(371.20,249.30) scale(0.88,1)" x="0" y="0" font-size="4.0" fill="#555" text-anchor="middle" font-weight="normal" >Line Orientation</text>
<text transform="translate(371.20,254.90) scale(0.88,1)" x="0" y="0" font-size="4.0" fill="#555" text-anchor="middle" font-weight="normal" >(JOLO)</text>
<text transform="translate(407.80,243.70) scale(0.88,1)" x="0" y="0" font-size="4.0" fill="#555" text-anchor="middle" font-weight="normal" >-0.32</text>
<text transform="translate(439.50,243.70) scale(0.88,1)" x="0" y="0" font-size="4.0" fill="#555" text-anchor="middle" font-weight="normal" >0.03</text>
<text transform="translate(472.30,243.70) scale(0.88,1)" x="0" y="0" font-size="4.0" fill="#555" text-anchor="middle" font-weight="normal" >0.06</text>
<line x1="354.30" y1="259.50" x2="490.00" y2="259.50" stroke="#ececec" stroke-width="0.5" />
<text transform="translate(371.20,266.60) scale(0.88,1)" x="0" y="0" font-size="4.0" fill="#555" text-anchor="middle" font-weight="normal" >Letter Number</text>
<text transform="translate(371.20,272.20) scale(0.88,1)" x="0" y="0" font-size="4.0" fill="#555" text-anchor="middle" font-weight="normal" >Sequencing (LNS)</text>
<text transform="translate(407.80,266.60) scale(0.88,1)" x="0" y="0" font-size="4.0" fill="#555" text-anchor="middle" font-weight="normal" >-0.27</text>
<text transform="translate(439.50,266.60) scale(0.88,1)" x="0" y="0" font-size="4.0" fill="#555" text-anchor="middle" font-weight="normal" >0.03</text>
<text transform="translate(472.30,266.60) scale(0.88,1)" x="0" y="0" font-size="4.0" fill="#555" text-anchor="middle" font-weight="normal" >0.06</text>
<rect x="490.70" y="187.50" width="3.20" height="90.00" fill="#f0f0f0" stroke="none" stroke-width="1" rx="0" />
<rect x="490.90" y="192.00" width="2.80" height="25.50" fill="#c2c2c2" stroke="none" stroke-width="1" rx="0" />
<path d="M491.4,190 L493.2,190 L492.3,188.6 Z" fill="#444"/>
<path d="M491.4,274.2 L493.2,274.2 L492.3,275.6 Z" fill="#444"/>
<path d="M57.00,64.10 L54.50,70.50 L63.00,64.10" fill="#f8f59c" stroke="#bdb574" stroke-width="0.6"/>
<rect x="18.40" y="53.20" width="83.90" height="10.90" fill="#f8f59c" stroke="#bdb574" stroke-width="0.6" rx="0" />
<line x1="57.50" y1="64.10" x2="62.50" y2="64.10" stroke="#f8f59c" stroke-width="0.9" />
<text x="22.60" y="61.00" font-size="6.6" fill="#111" text-anchor="start" font-weight="normal" textLength="75.40" lengthAdjust="spacingAndGlyphs" stroke="#111" stroke-width="0.22">A rapidly progressing patient</text>
<rect x="88.30" y="81.80" width="32.40" height="8.30" fill="#f8f59c" stroke="#bdb574" stroke-width="0.6" rx="0" />
<text x="95.70" y="88.50" font-size="6.6" fill="#111" text-anchor="start" font-weight="normal" textLength="18.00" lengthAdjust="spacingAndGlyphs" stroke="#111" stroke-width="0.22">Severe</text>
<rect x="88.70" y="117.90" width="32.00" height="8.60" fill="#f8f59c" stroke="#bdb574" stroke-width="0.6" rx="0" />
<text x="98.80" y="124.50" font-size="6.6" fill="#111" text-anchor="start" font-weight="normal" textLength="12.20" lengthAdjust="spacingAndGlyphs" stroke="#111" stroke-width="0.22">Mild</text>
<path d="M104.7,90.6 L110.2,96.4 L107.2,96.4 L107.2,111.8 L110.2,111.8 L104.7,117.6 L99.2,111.8 L102.4,111.8 L102.4,96.4 L99.2,96.4 Z" fill="#f8f59c" stroke="#c6c07a" stroke-width="0.6"/>
<path d="M225.00,99.50 L242.00,108.00 L232.00,99.50" fill="#f8f59c" stroke="#bdb574" stroke-width="0.6"/>
<rect x="216.30" y="89.30" width="24.20" height="10.20" fill="#f8f59c" stroke="#bdb574" stroke-width="0.6" rx="0" />
<line x1="225.50" y1="99.50" x2="231.50" y2="99.50" stroke="#f8f59c" stroke-width="0.9" />
<text x="221.70" y="96.70" font-size="6.6" fill="#111" text-anchor="start" font-weight="normal" textLength="13.70" lengthAdjust="spacingAndGlyphs" stroke="#111" stroke-width="0.22">Filter</text>
<path d="M107.30,156.00 L120.00,166.00 L112.00,156.00" fill="#f8f59c" stroke="#bdb574" stroke-width="0.6"/>
<rect x="79.30" y="145.30" width="59.40" height="10.70" fill="#f8f59c" stroke="#bdb574" stroke-width="0.6" rx="0" />
<line x1="107.80" y1="156.00" x2="111.50" y2="156.00" stroke="#f8f59c" stroke-width="0.9" />
<text x="90.00" y="153.30" font-size="6.6" fill="#111" text-anchor="start" font-weight="normal" textLength="37.30" lengthAdjust="spacingAndGlyphs" stroke="#111" stroke-width="0.22">Basic statistics</text>
<rect x="117.50" y="197.50" width="32.00" height="17.00" fill="#f8f59c" stroke="#bdb574" stroke-width="0.6" rx="0" />
<text x="124.00" y="204.20" font-size="6.6" fill="#111" text-anchor="start" font-weight="normal" textLength="19.00" lengthAdjust="spacingAndGlyphs" stroke="#111" stroke-width="0.22">Getting</text>
<text x="125.50" y="211.60" font-size="6.6" fill="#111" text-anchor="start" font-weight="normal" textLength="16.00" lengthAdjust="spacingAndGlyphs" stroke="#111" stroke-width="0.22">better</text>
<rect x="194.00" y="197.50" width="33.00" height="17.00" fill="#f8f59c" stroke="#bdb574" stroke-width="0.6" rx="0" />
<text x="201.00" y="204.20" font-size="6.6" fill="#111" text-anchor="start" font-weight="normal" textLength="19.00" lengthAdjust="spacingAndGlyphs" stroke="#111" stroke-width="0.22">Getting</text>
<text x="202.50" y="211.60" font-size="6.6" fill="#111" text-anchor="start" font-weight="normal" textLength="16.00" lengthAdjust="spacingAndGlyphs" stroke="#111" stroke-width="0.22">worse</text>
<path d="M154,205.6 L160,199.8 L160,203 L168.8,203 L168.8,208.4 L160,208.4 L160,211.4 Z" fill="#f8f59c" stroke="#c6c07a" stroke-width="0.6"/>
<path d="M189.5,205.6 L183.5,199.8 L183.5,203 L174.5,203 L174.5,208.4 L183.5,208.4 L183.5,211.4 Z" fill="#f8f59c" stroke="#c6c07a" stroke-width="0.6"/>
<path d="M114.80,250.60 L123.80,243.70 L118.80,250.60" fill="#f8f59c" stroke="#bdb574" stroke-width="0.6"/>
<rect x="88.00" y="250.60" width="58.40" height="10.40" fill="#f8f59c" stroke="#bdb574" stroke-width="0.6" rx="0" />
<line x1="115.30" y1="250.60" x2="118.30" y2="250.60" stroke="#f8f59c" stroke-width="0.9" />
<text x="90.60" y="257.90" font-size="6.6" fill="#111" text-anchor="start" font-weight="normal" textLength="53.20" lengthAdjust="spacingAndGlyphs" stroke="#111" stroke-width="0.22">Histogram of change</text>
<path d="M378.90,40.00 L392.50,47.00 L384.70,40.00" fill="#f8f59c" stroke="#bdb574" stroke-width="0.6"/>
<rect x="334.90" y="29.50" width="93.80" height="10.50" fill="#f8f59c" stroke="#bdb574" stroke-width="0.6" rx="0" />
<line x1="379.40" y1="40.00" x2="384.20" y2="40.00" stroke="#f8f59c" stroke-width="0.9" />
<text x="342.70" y="36.70" font-size="6.6" fill="#111" text-anchor="start" font-weight="normal" textLength="78.80" lengthAdjust="spacingAndGlyphs" stroke="#111" stroke-width="0.22">Number of patients by gender</text>
<path d="M422.80,143.70 L422.30,149.90 L429.20,143.70" fill="#f8f59c" stroke="#bdb574" stroke-width="0.6"/>
<rect x="398.00" y="133.30" width="59.30" height="10.40" fill="#f8f59c" stroke="#bdb574" stroke-width="0.6" rx="0" />
<line x1="423.30" y1="143.70" x2="428.70" y2="143.70" stroke="#f8f59c" stroke-width="0.9" />
<text x="401.00" y="140.60" font-size="6.6" fill="#111" text-anchor="start" font-weight="normal" textLength="53.40" lengthAdjust="spacingAndGlyphs" stroke="#111" stroke-width="0.22">Basic analytic results</text>
</svg>
</body></html>
